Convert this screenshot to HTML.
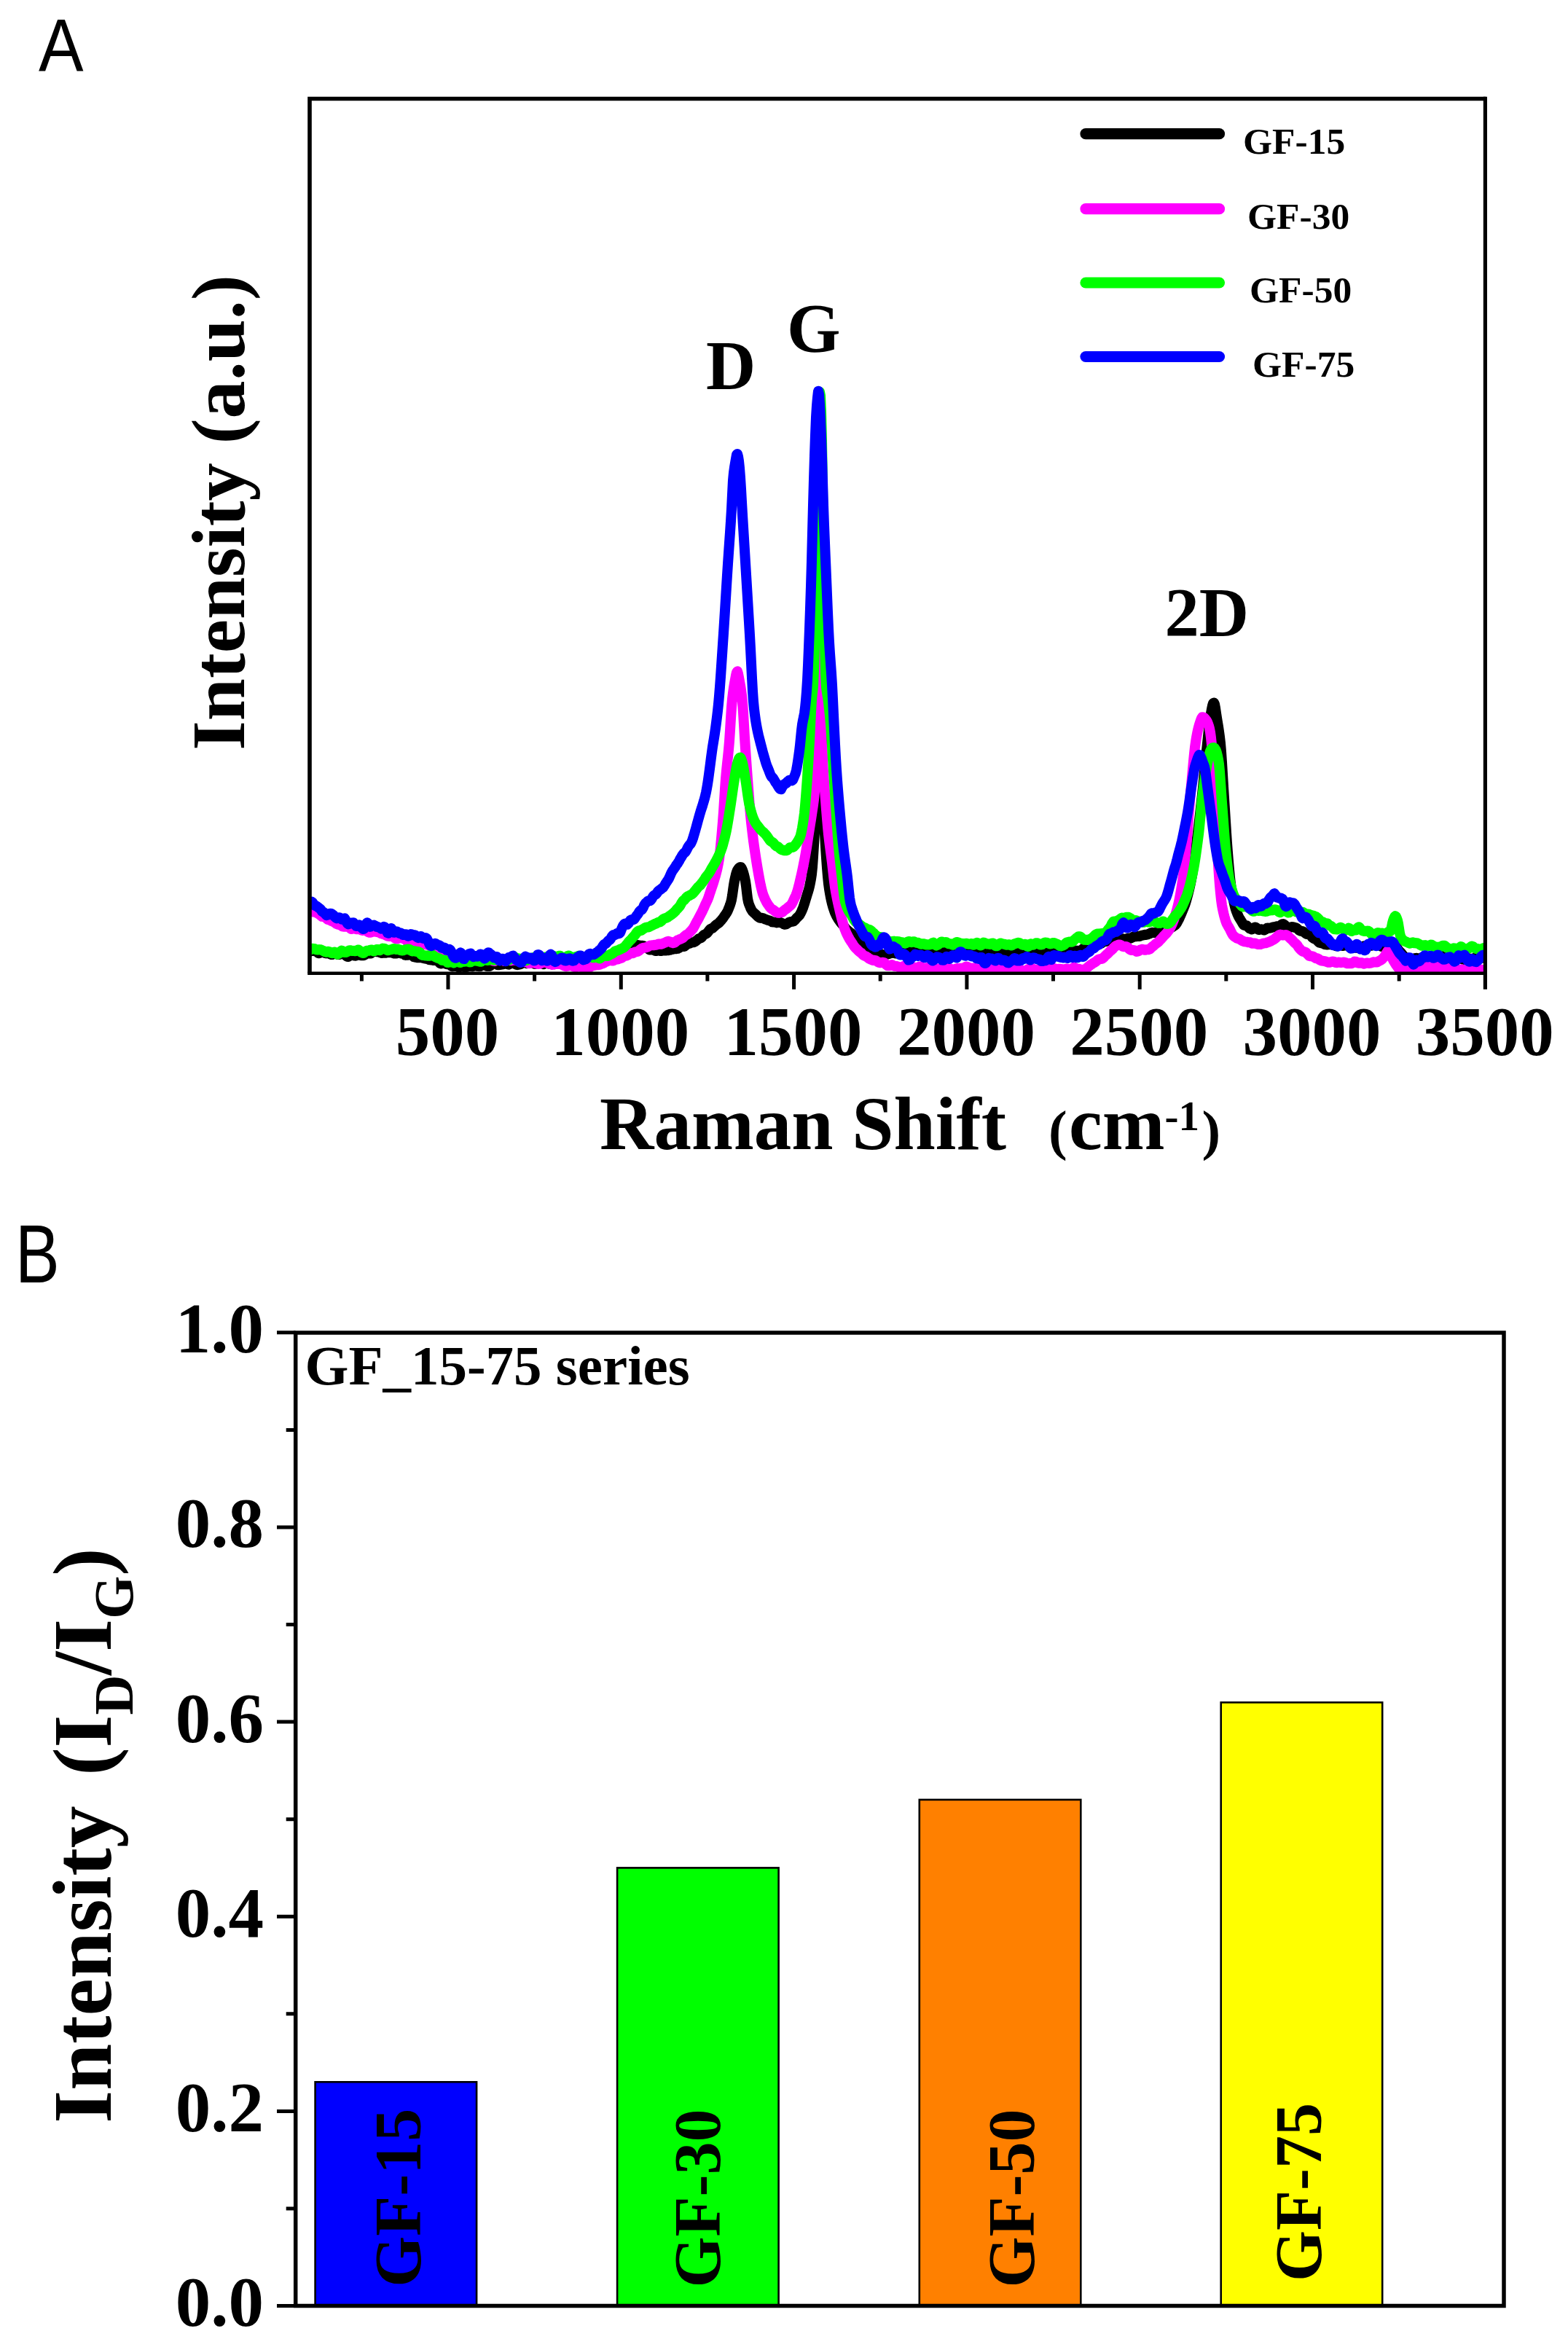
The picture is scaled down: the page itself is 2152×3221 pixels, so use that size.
<!DOCTYPE html>
<html lang="en"><head><meta charset="utf-8"><title>Raman spectra and ID/IG ratio of GF series</title>
<style>html,body{margin:0;padding:0;background:#fff}svg{display:block}text{fill:#000}.s{font-family:"Liberation Serif","DejaVu Serif",serif;font-weight:700}.n{font-family:"Liberation Sans","DejaVu Sans",sans-serif;font-weight:400}</style></head><body>
<svg width="2152" height="3221" viewBox="0 0 2152 3221">
<rect width="2152" height="3221" fill="#fff"/>
<g id="panelA">
<text class="n" transform="translate(53 98.4) scale(0.905 1)" x="0" y="0" font-size="102">A</text>
<clipPath id="cA"><rect x="425" y="136" width="1614" height="1200"/></clipPath>
<g clip-path="url(#cA)" fill="none" stroke-width="14" stroke-linejoin="round" stroke-linecap="round">
<path stroke="#000" d="M425.0 1306.0 L426.0 1305.6 L427.0 1305.2 L428.0 1304.6 L429.0 1304.5 L430.0 1304.8 L431.0 1305.1 L432.0 1305.2 L433.0 1305.5 L434.0 1305.8 L435.0 1306.4 L436.0 1307.4 L437.0 1308.0 L438.0 1308.3 L439.0 1307.8 L440.0 1307.2 L441.0 1306.7 L442.0 1306.3 L443.0 1306.6 L444.0 1306.8 L445.0 1307.3 L446.0 1307.9 L447.0 1308.3 L448.0 1308.4 L449.0 1308.3 L450.0 1308.3 L451.0 1308.4 L452.0 1308.6 L453.0 1309.2 L454.0 1309.7 L455.0 1310.0 L456.0 1310.1 L457.0 1309.3 L458.0 1308.6 L459.0 1307.9 L460.0 1307.6 L461.0 1308.3 L462.0 1308.9 L463.0 1309.8 L464.0 1310.1 L465.0 1309.9 L466.0 1309.9 L467.0 1309.4 L468.0 1309.1 L469.0 1309.2 L470.0 1309.0 L471.0 1309.0 L472.0 1309.3 L473.0 1309.5 L474.0 1310.5 L475.0 1311.7 L476.0 1312.6 L477.0 1313.1 L478.0 1313.0 L479.0 1312.2 L480.0 1311.0 L481.0 1310.0 L482.0 1309.1 L483.0 1309.2 L484.0 1309.6 L485.0 1310.7 L486.0 1311.5 L487.0 1311.6 L488.0 1311.7 L489.0 1310.8 L490.0 1310.4 L491.0 1310.4 L492.0 1310.2 L493.0 1310.7 L494.0 1310.9 L495.0 1310.9 L496.0 1311.2 L497.0 1311.2 L498.0 1311.3 L499.0 1311.3 L500.0 1310.7 L501.0 1310.3 L502.0 1309.5 L503.0 1308.9 L504.0 1308.8 L505.0 1308.3 L506.0 1308.4 L507.0 1308.5 L508.0 1308.3 L509.0 1308.4 L510.0 1307.8 L511.0 1306.8 L512.0 1305.8 L513.0 1304.9 L514.0 1304.7 L515.0 1305.0 L516.0 1305.5 L517.0 1305.9 L518.0 1306.4 L519.0 1306.5 L520.0 1306.6 L521.0 1307.1 L522.0 1307.3 L523.0 1307.7 L524.0 1308.1 L525.0 1307.8 L526.0 1307.6 L527.0 1307.7 L528.0 1307.7 L529.0 1307.8 L530.0 1307.6 L531.0 1307.3 L532.0 1307.1 L533.0 1307.2 L534.0 1307.2 L535.0 1307.2 L536.0 1307.2 L537.0 1307.3 L538.0 1307.6 L539.0 1307.9 L540.0 1308.2 L541.0 1308.6 L542.0 1308.5 L543.0 1308.4 L544.0 1308.4 L545.0 1307.7 L546.0 1307.5 L547.0 1307.3 L548.0 1307.1 L549.0 1307.8 L550.0 1308.2 L551.0 1308.5 L552.0 1308.6 L553.0 1308.8 L554.0 1309.3 L555.0 1309.9 L556.0 1310.7 L557.0 1310.9 L558.0 1310.8 L559.0 1310.8 L560.0 1310.6 L561.0 1310.5 L562.0 1310.6 L563.0 1310.4 L564.0 1310.4 L565.0 1310.9 L566.0 1311.6 L567.0 1312.4 L568.0 1313.2 L569.0 1313.4 L570.0 1313.7 L571.0 1313.9 L572.0 1314.0 L573.0 1314.3 L574.0 1314.2 L575.0 1314.0 L576.0 1314.2 L577.0 1314.0 L578.0 1314.3 L579.0 1314.5 L580.0 1314.7 L581.0 1315.0 L582.0 1315.2 L583.0 1315.5 L584.0 1315.7 L585.0 1315.6 L586.0 1315.9 L587.0 1316.3 L588.0 1316.4 L589.0 1317.3 L590.0 1317.2 L591.0 1317.2 L592.0 1317.6 L593.0 1317.4 L594.0 1317.8 L595.0 1318.1 L596.0 1317.9 L597.0 1317.8 L598.0 1317.7 L599.0 1317.7 L600.0 1318.0 L601.0 1318.7 L602.0 1319.9 L603.0 1321.1 L604.0 1322.1 L605.0 1322.6 L606.0 1322.3 L607.0 1321.7 L608.0 1321.2 L609.0 1320.8 L610.0 1321.2 L611.0 1321.9 L612.0 1322.7 L613.0 1323.2 L614.0 1323.2 L615.0 1323.3 L616.0 1323.4 L617.0 1323.8 L618.0 1324.6 L619.0 1325.4 L620.0 1326.0 L621.0 1326.5 L622.0 1326.3 L623.0 1325.9 L624.0 1325.5 L625.0 1325.2 L626.0 1325.4 L627.0 1326.0 L628.0 1326.7 L629.0 1327.2 L630.0 1327.5 L631.0 1327.3 L632.0 1326.7 L633.0 1326.4 L634.0 1326.1 L635.0 1326.4 L636.0 1327.1 L637.0 1327.1 L638.0 1327.5 L639.0 1327.3 L640.0 1327.1 L641.0 1327.1 L642.0 1326.6 L643.0 1326.3 L644.0 1325.8 L645.0 1325.7 L646.0 1325.8 L647.0 1326.3 L648.0 1326.5 L649.0 1326.2 L650.0 1325.9 L651.0 1325.1 L652.0 1325.1 L653.0 1325.4 L654.0 1325.5 L655.0 1325.9 L656.0 1326.1 L657.0 1326.1 L658.0 1326.3 L659.0 1326.3 L660.0 1325.6 L661.0 1324.8 L662.0 1323.9 L663.0 1323.5 L664.0 1323.6 L665.0 1324.2 L666.0 1325.1 L667.0 1325.6 L668.0 1325.8 L669.0 1326.1 L670.0 1326.1 L671.0 1326.0 L672.0 1326.1 L673.0 1325.2 L674.0 1324.2 L675.0 1323.4 L676.0 1322.0 L677.0 1321.7 L678.0 1321.6 L679.0 1321.3 L680.0 1322.0 L681.0 1322.6 L682.0 1323.2 L683.0 1324.2 L684.0 1324.2 L685.0 1324.2 L686.0 1324.1 L687.0 1323.8 L688.0 1323.7 L689.0 1323.6 L690.0 1323.4 L691.0 1322.7 L692.0 1322.6 L693.0 1322.2 L694.0 1322.1 L695.0 1322.7 L696.0 1322.9 L697.0 1323.5 L698.0 1323.7 L699.0 1323.3 L700.0 1322.8 L701.0 1322.1 L702.0 1321.4 L703.0 1321.4 L704.0 1321.5 L705.0 1321.7 L706.0 1322.3 L707.0 1323.0 L708.0 1323.4 L709.0 1324.0 L710.0 1324.2 L711.0 1323.7 L712.0 1323.8 L713.0 1323.5 L714.0 1323.3 L715.0 1323.0 L716.0 1321.8 L717.0 1320.7 L718.0 1320.0 L719.0 1319.5 L720.0 1320.0 L721.0 1321.0 L722.0 1321.6 L723.0 1322.2 L724.0 1322.1 L725.0 1321.6 L726.0 1321.4 L727.0 1321.1 L728.0 1321.2 L729.0 1321.1 L730.0 1321.0 L731.0 1321.4 L732.0 1321.8 L733.0 1322.4 L734.0 1323.0 L735.0 1322.7 L736.0 1322.4 L737.0 1321.6 L738.0 1321.0 L739.0 1320.4 L740.0 1319.9 L741.0 1319.9 L742.0 1320.1 L743.0 1320.8 L744.0 1321.7 L745.0 1322.9 L746.0 1323.2 L747.0 1322.8 L748.0 1322.0 L749.0 1320.9 L750.0 1320.5 L751.0 1321.0 L752.0 1321.9 L753.0 1322.5 L754.0 1322.8 L755.0 1322.8 L756.0 1322.4 L757.0 1322.3 L758.0 1322.1 L759.0 1321.3 L760.0 1320.9 L761.0 1320.8 L762.0 1320.8 L763.0 1320.9 L764.0 1320.9 L765.0 1321.2 L766.0 1321.5 L767.0 1322.3 L768.0 1322.9 L769.0 1322.4 L770.0 1321.5 L771.0 1320.8 L772.0 1319.9 L773.0 1320.3 L774.0 1320.8 L775.0 1321.3 L776.0 1322.2 L777.0 1322.5 L778.0 1322.4 L779.0 1321.9 L780.0 1321.2 L781.0 1320.4 L782.0 1320.3 L783.0 1320.9 L784.0 1321.6 L785.0 1322.2 L786.0 1322.5 L787.0 1322.1 L788.0 1322.0 L789.0 1322.0 L790.0 1322.0 L791.0 1322.4 L792.0 1322.6 L793.0 1323.0 L794.0 1323.1 L795.0 1323.2 L796.0 1323.0 L797.0 1322.7 L798.0 1322.1 L799.0 1322.2 L800.0 1322.1 L801.0 1321.9 L802.0 1321.7 L803.0 1320.9 L804.0 1320.3 L805.0 1320.0 L806.0 1319.9 L807.0 1319.7 L808.0 1319.8 L809.0 1319.8 L810.0 1319.9 L811.0 1320.2 L812.0 1320.4 L813.0 1320.4 L814.0 1320.1 L815.0 1319.6 L816.0 1319.1 L817.0 1318.9 L818.0 1319.6 L819.0 1320.5 L820.0 1321.3 L821.0 1321.6 L822.0 1321.0 L823.0 1320.3 L824.0 1319.7 L825.0 1319.4 L826.0 1319.4 L827.0 1319.4 L828.0 1319.2 L829.0 1319.3 L830.0 1319.1 L831.0 1318.8 L832.0 1318.1 L833.0 1317.1 L834.0 1316.4 L835.0 1316.2 L836.0 1316.3 L837.0 1316.8 L838.0 1317.0 L839.0 1316.8 L840.0 1316.3 L841.0 1315.5 L842.0 1315.0 L843.0 1314.6 L844.0 1314.1 L845.0 1313.7 L846.0 1312.9 L847.0 1311.9 L848.0 1311.2 L849.0 1310.8 L850.0 1310.9 L851.0 1311.2 L852.0 1311.4 L853.0 1311.3 L854.0 1310.6 L855.0 1309.7 L856.0 1308.6 L857.0 1307.2 L858.0 1306.1 L859.0 1304.9 L860.0 1303.8 L861.0 1303.0 L862.0 1302.5 L863.0 1302.0 L864.0 1301.6 L865.0 1301.1 L866.0 1300.1 L867.0 1299.2 L868.0 1298.1 L869.0 1297.1 L870.0 1296.7 L871.0 1296.4 L872.0 1296.6 L873.0 1296.8 L874.0 1297.0 L875.0 1297.1 L876.0 1297.1 L877.0 1297.4 L878.0 1297.5 L879.0 1297.7 L880.0 1297.9 L881.0 1297.7 L882.0 1297.7 L883.0 1298.1 L884.0 1298.5 L885.0 1299.4 L886.0 1300.2 L887.0 1300.5 L888.0 1301.1 L889.0 1301.6 L890.0 1302.2 L891.0 1303.2 L892.0 1303.5 L893.0 1303.6 L894.0 1303.5 L895.0 1303.1 L896.0 1303.1 L897.0 1303.4 L898.0 1304.0 L899.0 1304.8 L900.0 1305.1 L901.0 1305.0 L902.0 1304.5 L903.0 1304.1 L904.0 1304.2 L905.0 1304.5 L906.0 1305.1 L907.0 1305.1 L908.0 1304.9 L909.0 1304.7 L910.0 1304.1 L911.0 1304.3 L912.0 1304.4 L913.0 1304.1 L914.0 1304.5 L915.0 1304.4 L916.0 1304.0 L917.0 1304.3 L918.0 1303.9 L919.0 1303.6 L920.0 1303.8 L921.0 1303.2 L922.0 1303.0 L923.0 1302.9 L924.0 1302.4 L925.0 1302.5 L926.0 1302.3 L927.0 1302.3 L928.0 1302.2 L929.0 1302.0 L930.0 1301.9 L931.0 1301.3 L932.0 1301.0 L933.0 1300.2 L934.0 1299.5 L935.0 1299.2 L936.0 1298.8 L937.0 1298.8 L938.0 1299.1 L939.0 1298.9 L940.0 1298.4 L941.0 1297.5 L942.0 1296.4 L943.0 1295.7 L944.0 1295.2 L945.0 1295.2 L946.0 1295.0 L947.0 1294.5 L948.0 1294.0 L949.0 1293.4 L950.0 1293.3 L951.0 1293.3 L952.0 1293.2 L953.0 1292.8 L954.0 1292.2 L955.0 1291.5 L956.0 1290.7 L957.0 1289.9 L958.0 1289.1 L959.0 1288.3 L960.0 1288.0 L961.0 1287.6 L962.0 1287.2 L963.0 1286.4 L964.0 1285.1 L965.0 1284.0 L966.0 1283.1 L967.0 1282.4 L968.0 1282.1 L969.0 1281.6 L970.0 1280.9 L971.0 1280.0 L972.0 1278.6 L973.0 1277.2 L974.0 1275.9 L975.0 1275.0 L976.0 1274.4 L977.0 1274.0 L978.0 1273.7 L979.0 1272.9 L980.0 1271.9 L981.0 1271.0 L982.0 1269.9 L983.0 1269.1 L984.0 1268.6 L985.0 1267.7 L986.0 1267.0 L987.0 1266.2 L988.0 1265.0 L989.0 1264.0 L990.0 1262.9 L991.0 1261.6 L992.0 1260.4 L993.0 1259.0 L994.0 1257.4 L995.0 1256.1 L996.0 1254.7 L997.0 1253.2 L998.0 1251.5 L999.0 1249.4 L1000.0 1247.0 L1001.0 1244.4 L1002.0 1241.7 L1003.0 1238.7 L1004.0 1234.9 L1005.0 1228.9 L1006.0 1221.8 L1007.0 1214.8 L1008.0 1209.0 L1009.0 1204.3 L1010.0 1200.1 L1011.0 1196.7 L1012.0 1194.4 L1013.0 1192.7 L1014.0 1191.4 L1015.0 1190.4 L1016.0 1190.0 L1017.0 1190.2 L1018.0 1191.8 L1019.0 1194.1 L1020.0 1196.9 L1021.0 1200.4 L1022.0 1204.7 L1023.0 1209.3 L1024.0 1216.0 L1025.0 1224.7 L1026.0 1232.8 L1027.0 1237.9 L1028.0 1241.0 L1029.0 1243.5 L1030.0 1246.0 L1031.0 1248.0 L1032.0 1249.7 L1033.0 1251.1 L1034.0 1252.1 L1035.0 1253.0 L1036.0 1253.9 L1037.0 1254.8 L1038.0 1255.7 L1039.0 1256.7 L1040.0 1257.7 L1041.0 1258.5 L1042.0 1259.3 L1043.0 1259.7 L1044.0 1259.9 L1045.0 1259.8 L1046.0 1259.8 L1047.0 1260.0 L1048.0 1260.4 L1049.0 1261.1 L1050.0 1261.5 L1051.0 1261.8 L1052.0 1262.1 L1053.0 1262.4 L1054.0 1262.9 L1055.0 1263.2 L1056.0 1263.4 L1057.0 1263.7 L1058.0 1264.2 L1059.0 1264.8 L1060.0 1265.4 L1061.0 1265.5 L1062.0 1265.4 L1063.0 1265.6 L1064.0 1265.7 L1065.0 1266.1 L1066.0 1266.4 L1067.0 1266.1 L1068.0 1265.8 L1069.0 1265.7 L1070.0 1265.7 L1071.0 1265.9 L1072.0 1266.4 L1073.0 1266.8 L1074.0 1267.2 L1075.0 1267.8 L1076.0 1268.4 L1077.0 1268.7 L1078.0 1268.6 L1079.0 1268.6 L1080.0 1267.7 L1081.0 1267.0 L1082.0 1266.5 L1083.0 1265.7 L1084.0 1265.4 L1085.0 1265.0 L1086.0 1265.0 L1087.0 1264.9 L1088.0 1264.7 L1089.0 1264.5 L1090.0 1263.6 L1091.0 1262.7 L1092.0 1261.5 L1093.0 1260.2 L1094.0 1259.3 L1095.0 1258.4 L1096.0 1257.4 L1097.0 1256.3 L1098.0 1254.8 L1099.0 1252.9 L1100.0 1250.9 L1101.0 1248.6 L1102.0 1246.1 L1103.0 1243.2 L1104.0 1240.2 L1105.0 1236.9 L1106.0 1233.5 L1107.0 1230.3 L1108.0 1227.0 L1109.0 1223.8 L1110.0 1220.4 L1111.0 1216.5 L1112.0 1211.8 L1113.0 1206.4 L1114.0 1199.9 L1115.0 1190.1 L1116.0 1176.0 L1117.0 1159.7 L1118.0 1142.9 L1119.0 1126.5 L1120.0 1108.4 L1121.0 1087.0 L1122.0 1060.3 L1123.0 1021.3 L1124.0 953.7 L1125.0 700.0 L1126.0 632.2 L1127.0 931.6 L1128.0 1019.8 L1129.0 1066.8 L1130.0 1098.5 L1131.0 1123.8 L1132.0 1144.8 L1133.0 1162.0 L1134.0 1177.2 L1135.0 1190.9 L1136.0 1202.8 L1137.0 1212.7 L1138.0 1220.0 L1139.0 1226.1 L1140.0 1231.5 L1141.0 1236.2 L1142.0 1240.4 L1143.0 1244.0 L1144.0 1247.1 L1145.0 1250.0 L1146.0 1252.7 L1147.0 1255.0 L1148.0 1257.1 L1149.0 1258.9 L1150.0 1260.5 L1151.0 1262.0 L1152.0 1263.5 L1153.0 1264.9 L1154.0 1266.2 L1155.0 1267.5 L1156.0 1268.5 L1157.0 1269.6 L1158.0 1270.8 L1159.0 1272.2 L1160.0 1273.5 L1161.0 1274.7 L1162.0 1275.6 L1163.0 1276.5 L1164.0 1277.4 L1165.0 1278.2 L1166.0 1279.2 L1167.0 1279.9 L1168.0 1280.5 L1169.0 1281.4 L1170.0 1282.5 L1171.0 1283.3 L1172.0 1284.5 L1173.0 1285.8 L1174.0 1286.9 L1175.0 1288.4 L1176.0 1289.5 L1177.0 1290.3 L1178.0 1291.3 L1179.0 1292.3 L1180.0 1293.5 L1181.0 1295.2 L1182.0 1296.6 L1183.0 1297.9 L1184.0 1299.1 L1185.0 1300.1 L1186.0 1301.1 L1187.0 1302.2 L1188.0 1303.2 L1189.0 1304.1 L1190.0 1304.7 L1191.0 1304.8 L1192.0 1304.9 L1193.0 1305.1 L1194.0 1305.4 L1195.0 1306.1 L1196.0 1307.0 L1197.0 1307.7 L1198.0 1308.3 L1199.0 1308.6 L1200.0 1308.5 L1201.0 1308.3 L1202.0 1308.2 L1203.0 1308.4 L1204.0 1308.9 L1205.0 1309.6 L1206.0 1310.4 L1207.0 1310.4 L1208.0 1310.2 L1209.0 1310.0 L1210.0 1309.8 L1211.0 1310.1 L1212.0 1310.3 L1213.0 1310.3 L1214.0 1310.5 L1215.0 1310.2 L1216.0 1310.1 L1217.0 1310.0 L1218.0 1309.5 L1219.0 1309.5 L1220.0 1309.0 L1221.0 1308.6 L1222.0 1308.4 L1223.0 1307.9 L1224.0 1308.1 L1225.0 1307.7 L1226.0 1307.6 L1227.0 1307.9 L1228.0 1307.8 L1229.0 1308.4 L1230.0 1308.4 L1231.0 1307.9 L1232.0 1307.4 L1233.0 1306.7 L1234.0 1306.4 L1235.0 1306.9 L1236.0 1307.0 L1237.0 1307.2 L1238.0 1307.3 L1239.0 1306.7 L1240.0 1306.4 L1241.0 1305.9 L1242.0 1305.7 L1243.0 1305.8 L1244.0 1305.7 L1245.0 1305.5 L1246.0 1304.9 L1247.0 1304.1 L1248.0 1303.9 L1249.0 1304.5 L1250.0 1304.9 L1251.0 1305.6 L1252.0 1306.1 L1253.0 1305.9 L1254.0 1306.5 L1255.0 1306.8 L1256.0 1306.9 L1257.0 1306.9 L1258.0 1306.7 L1259.0 1306.5 L1260.0 1306.2 L1261.0 1306.3 L1262.0 1306.4 L1263.0 1306.9 L1264.0 1307.7 L1265.0 1308.0 L1266.0 1308.0 L1267.0 1307.5 L1268.0 1306.7 L1269.0 1306.1 L1270.0 1305.7 L1271.0 1306.1 L1272.0 1306.2 L1273.0 1306.2 L1274.0 1306.3 L1275.0 1305.8 L1276.0 1305.8 L1277.0 1306.0 L1278.0 1306.2 L1279.0 1306.2 L1280.0 1305.8 L1281.0 1305.5 L1282.0 1305.5 L1283.0 1306.1 L1284.0 1306.9 L1285.0 1307.8 L1286.0 1308.1 L1287.0 1307.8 L1288.0 1307.4 L1289.0 1306.4 L1290.0 1305.9 L1291.0 1306.0 L1292.0 1306.2 L1293.0 1307.0 L1294.0 1307.4 L1295.0 1307.5 L1296.0 1307.2 L1297.0 1306.4 L1298.0 1306.2 L1299.0 1306.1 L1300.0 1306.8 L1301.0 1307.9 L1302.0 1308.6 L1303.0 1309.1 L1304.0 1308.9 L1305.0 1308.2 L1306.0 1307.6 L1307.0 1306.7 L1308.0 1306.3 L1309.0 1306.6 L1310.0 1307.0 L1311.0 1307.6 L1312.0 1307.8 L1313.0 1307.6 L1314.0 1307.2 L1315.0 1306.9 L1316.0 1306.9 L1317.0 1306.8 L1318.0 1307.1 L1319.0 1307.1 L1320.0 1306.9 L1321.0 1307.2 L1322.0 1307.0 L1323.0 1307.1 L1324.0 1307.6 L1325.0 1307.8 L1326.0 1308.2 L1327.0 1308.6 L1328.0 1308.7 L1329.0 1308.8 L1330.0 1308.5 L1331.0 1308.0 L1332.0 1307.6 L1333.0 1307.4 L1334.0 1306.8 L1335.0 1306.5 L1336.0 1306.1 L1337.0 1306.0 L1338.0 1306.9 L1339.0 1307.8 L1340.0 1308.6 L1341.0 1309.1 L1342.0 1308.8 L1343.0 1308.4 L1344.0 1308.4 L1345.0 1308.2 L1346.0 1308.3 L1347.0 1308.2 L1348.0 1307.7 L1349.0 1307.2 L1350.0 1306.3 L1351.0 1305.6 L1352.0 1305.6 L1353.0 1306.0 L1354.0 1307.2 L1355.0 1308.1 L1356.0 1308.3 L1357.0 1308.1 L1358.0 1307.2 L1359.0 1306.7 L1360.0 1306.5 L1361.0 1306.1 L1362.0 1306.2 L1363.0 1306.1 L1364.0 1306.3 L1365.0 1306.8 L1366.0 1306.7 L1367.0 1306.8 L1368.0 1306.6 L1369.0 1306.7 L1370.0 1307.1 L1371.0 1307.2 L1372.0 1307.2 L1373.0 1307.4 L1374.0 1307.3 L1375.0 1307.6 L1376.0 1307.9 L1377.0 1307.6 L1378.0 1307.9 L1379.0 1308.3 L1380.0 1308.4 L1381.0 1309.1 L1382.0 1309.3 L1383.0 1308.9 L1384.0 1308.8 L1385.0 1308.3 L1386.0 1307.5 L1387.0 1307.5 L1388.0 1307.1 L1389.0 1306.8 L1390.0 1306.5 L1391.0 1305.8 L1392.0 1305.5 L1393.0 1305.6 L1394.0 1306.1 L1395.0 1306.7 L1396.0 1307.2 L1397.0 1307.6 L1398.0 1307.7 L1399.0 1307.7 L1400.0 1307.7 L1401.0 1307.3 L1402.0 1307.2 L1403.0 1307.1 L1404.0 1306.6 L1405.0 1306.6 L1406.0 1306.2 L1407.0 1306.0 L1408.0 1306.3 L1409.0 1306.0 L1410.0 1306.4 L1411.0 1306.1 L1412.0 1305.8 L1413.0 1306.1 L1414.0 1305.9 L1415.0 1306.5 L1416.0 1306.9 L1417.0 1306.8 L1418.0 1307.0 L1419.0 1307.0 L1420.0 1307.1 L1421.0 1307.4 L1422.0 1307.6 L1423.0 1307.9 L1424.0 1307.4 L1425.0 1306.9 L1426.0 1306.0 L1427.0 1304.6 L1428.0 1304.6 L1429.0 1304.6 L1430.0 1305.4 L1431.0 1307.0 L1432.0 1307.6 L1433.0 1308.1 L1434.0 1307.6 L1435.0 1307.0 L1436.0 1306.5 L1437.0 1306.5 L1438.0 1306.8 L1439.0 1307.1 L1440.0 1307.5 L1441.0 1307.3 L1442.0 1306.9 L1443.0 1306.5 L1444.0 1306.2 L1445.0 1306.0 L1446.0 1306.2 L1447.0 1306.3 L1448.0 1306.6 L1449.0 1306.8 L1450.0 1307.0 L1451.0 1307.1 L1452.0 1307.1 L1453.0 1307.1 L1454.0 1307.3 L1455.0 1307.7 L1456.0 1308.1 L1457.0 1308.1 L1458.0 1308.0 L1459.0 1307.9 L1460.0 1307.5 L1461.0 1307.6 L1462.0 1307.1 L1463.0 1306.2 L1464.0 1305.4 L1465.0 1304.8 L1466.0 1304.8 L1467.0 1304.8 L1468.0 1305.2 L1469.0 1304.9 L1470.0 1304.9 L1471.0 1305.0 L1472.0 1304.8 L1473.0 1304.8 L1474.0 1304.7 L1475.0 1304.5 L1476.0 1304.5 L1477.0 1304.7 L1478.0 1304.6 L1479.0 1304.9 L1480.0 1305.0 L1481.0 1304.9 L1482.0 1304.6 L1483.0 1304.4 L1484.0 1303.8 L1485.0 1303.0 L1486.0 1302.3 L1487.0 1301.4 L1488.0 1301.2 L1489.0 1301.1 L1490.0 1301.2 L1491.0 1301.2 L1492.0 1300.9 L1493.0 1300.8 L1494.0 1300.4 L1495.0 1299.7 L1496.0 1299.1 L1497.0 1298.5 L1498.0 1298.2 L1499.0 1298.5 L1500.0 1298.6 L1501.0 1298.4 L1502.0 1298.0 L1503.0 1297.2 L1504.0 1296.6 L1505.0 1295.8 L1506.0 1295.1 L1507.0 1294.8 L1508.0 1294.7 L1509.0 1294.9 L1510.0 1295.1 L1511.0 1294.8 L1512.0 1294.4 L1513.0 1293.5 L1514.0 1292.6 L1515.0 1292.1 L1516.0 1291.6 L1517.0 1291.5 L1518.0 1292.0 L1519.0 1291.6 L1520.0 1291.6 L1521.0 1291.3 L1522.0 1290.7 L1523.0 1290.9 L1524.0 1290.9 L1525.0 1290.9 L1526.0 1291.1 L1527.0 1290.9 L1528.0 1290.7 L1529.0 1290.5 L1530.0 1289.9 L1531.0 1289.5 L1532.0 1289.1 L1533.0 1288.7 L1534.0 1289.1 L1535.0 1289.3 L1536.0 1289.7 L1537.0 1290.0 L1538.0 1289.5 L1539.0 1289.0 L1540.0 1288.5 L1541.0 1288.3 L1542.0 1288.9 L1543.0 1289.2 L1544.0 1289.3 L1545.0 1289.3 L1546.0 1288.4 L1547.0 1287.9 L1548.0 1287.6 L1549.0 1287.6 L1550.0 1287.9 L1551.0 1287.9 L1552.0 1287.6 L1553.0 1287.1 L1554.0 1286.4 L1555.0 1285.7 L1556.0 1285.7 L1557.0 1285.3 L1558.0 1285.2 L1559.0 1285.2 L1560.0 1284.8 L1561.0 1285.0 L1562.0 1285.1 L1563.0 1285.1 L1564.0 1284.9 L1565.0 1284.5 L1566.0 1284.1 L1567.0 1283.8 L1568.0 1283.6 L1569.0 1283.4 L1570.0 1283.0 L1571.0 1282.8 L1572.0 1282.9 L1573.0 1282.9 L1574.0 1282.7 L1575.0 1282.5 L1576.0 1282.1 L1577.0 1281.5 L1578.0 1281.3 L1579.0 1280.5 L1580.0 1280.1 L1581.0 1279.9 L1582.0 1279.7 L1583.0 1280.1 L1584.0 1280.1 L1585.0 1279.9 L1586.0 1279.7 L1587.0 1280.0 L1588.0 1280.6 L1589.0 1280.7 L1590.0 1280.7 L1591.0 1279.8 L1592.0 1278.6 L1593.0 1278.1 L1594.0 1277.6 L1595.0 1277.6 L1596.0 1277.5 L1597.0 1277.4 L1598.0 1277.1 L1599.0 1276.6 L1600.0 1275.9 L1601.0 1275.0 L1602.0 1274.4 L1603.0 1274.2 L1604.0 1274.2 L1605.0 1274.0 L1606.0 1273.8 L1607.0 1273.3 L1608.0 1272.8 L1609.0 1272.2 L1610.0 1271.5 L1611.0 1270.8 L1612.0 1270.2 L1613.0 1269.5 L1614.0 1268.4 L1615.0 1267.0 L1616.0 1265.2 L1617.0 1263.3 L1618.0 1261.4 L1619.0 1259.3 L1620.0 1257.0 L1621.0 1254.7 L1622.0 1252.3 L1623.0 1249.9 L1624.0 1247.5 L1625.0 1245.0 L1626.0 1242.5 L1627.0 1239.5 L1628.0 1236.2 L1629.0 1232.7 L1630.0 1228.9 L1631.0 1225.0 L1632.0 1221.0 L1633.0 1216.6 L1634.0 1212.0 L1635.0 1207.1 L1636.0 1201.6 L1637.0 1195.3 L1638.0 1188.4 L1639.0 1181.1 L1640.0 1173.5 L1641.0 1165.7 L1642.0 1157.8 L1643.0 1150.0 L1644.0 1142.1 L1645.0 1134.0 L1646.0 1125.6 L1647.0 1117.0 L1648.0 1108.2 L1649.0 1099.2 L1650.0 1090.0 L1651.0 1080.4 L1652.0 1070.4 L1653.0 1060.1 L1654.0 1049.8 L1655.0 1039.7 L1656.0 1030.0 L1657.0 1020.2 L1658.0 1010.2 L1659.0 1000.4 L1660.0 991.8 L1661.0 984.9 L1662.0 978.9 L1663.0 973.2 L1664.0 968.4 L1665.0 965.2 L1666.0 964.4 L1667.0 966.4 L1668.0 971.6 L1669.0 978.4 L1670.0 985.1 L1671.0 991.1 L1672.0 997.2 L1673.0 1003.8 L1674.0 1011.2 L1675.0 1019.9 L1676.0 1031.4 L1677.0 1046.0 L1678.0 1062.4 L1679.0 1079.1 L1680.0 1095.0 L1681.0 1110.5 L1682.0 1126.5 L1683.0 1142.2 L1684.0 1157.0 L1685.0 1170.1 L1686.0 1182.0 L1687.0 1193.4 L1688.0 1203.8 L1689.0 1212.8 L1690.0 1220.0 L1691.0 1225.7 L1692.0 1231.0 L1693.0 1235.9 L1694.0 1240.4 L1695.0 1244.5 L1696.0 1248.0 L1697.0 1251.0 L1698.0 1253.6 L1699.0 1255.9 L1700.0 1258.1 L1701.0 1259.9 L1702.0 1261.5 L1703.0 1263.1 L1704.0 1264.7 L1705.0 1266.5 L1706.0 1268.2 L1707.0 1269.4 L1708.0 1269.9 L1709.0 1269.8 L1710.0 1269.9 L1711.0 1270.3 L1712.0 1271.2 L1713.0 1272.2 L1714.0 1273.2 L1715.0 1274.3 L1716.0 1274.6 L1717.0 1275.0 L1718.0 1275.4 L1719.0 1274.9 L1720.0 1274.5 L1721.0 1273.8 L1722.0 1272.6 L1723.0 1272.6 L1724.0 1273.0 L1725.0 1274.1 L1726.0 1275.3 L1727.0 1275.8 L1728.0 1276.1 L1729.0 1275.7 L1730.0 1275.5 L1731.0 1275.3 L1732.0 1275.4 L1733.0 1275.7 L1734.0 1276.2 L1735.0 1276.5 L1736.0 1276.1 L1737.0 1275.5 L1738.0 1274.5 L1739.0 1273.7 L1740.0 1273.5 L1741.0 1273.6 L1742.0 1273.7 L1743.0 1273.7 L1744.0 1273.5 L1745.0 1273.1 L1746.0 1272.8 L1747.0 1272.5 L1748.0 1272.2 L1749.0 1272.1 L1750.0 1272.0 L1751.0 1271.7 L1752.0 1271.4 L1753.0 1271.2 L1754.0 1271.0 L1755.0 1271.0 L1756.0 1270.8 L1757.0 1270.4 L1758.0 1269.6 L1759.0 1268.7 L1760.0 1268.2 L1761.0 1268.1 L1762.0 1268.6 L1763.0 1269.2 L1764.0 1270.2 L1765.0 1271.1 L1766.0 1272.1 L1767.0 1272.9 L1768.0 1273.2 L1769.0 1273.4 L1770.0 1272.9 L1771.0 1272.5 L1772.0 1272.3 L1773.0 1271.9 L1774.0 1272.2 L1775.0 1272.4 L1776.0 1272.5 L1777.0 1272.9 L1778.0 1273.1 L1779.0 1273.5 L1780.0 1274.1 L1781.0 1274.9 L1782.0 1275.9 L1783.0 1276.7 L1784.0 1277.3 L1785.0 1277.7 L1786.0 1277.8 L1787.0 1277.9 L1788.0 1278.2 L1789.0 1278.7 L1790.0 1279.4 L1791.0 1280.3 L1792.0 1281.1 L1793.0 1281.8 L1794.0 1282.1 L1795.0 1282.0 L1796.0 1282.1 L1797.0 1282.1 L1798.0 1282.8 L1799.0 1284.0 L1800.0 1285.0 L1801.0 1286.5 L1802.0 1287.3 L1803.0 1287.9 L1804.0 1288.5 L1805.0 1288.7 L1806.0 1289.3 L1807.0 1290.1 L1808.0 1290.9 L1809.0 1292.1 L1810.0 1293.0 L1811.0 1293.7 L1812.0 1294.1 L1813.0 1294.2 L1814.0 1294.3 L1815.0 1294.6 L1816.0 1295.0 L1817.0 1295.5 L1818.0 1296.1 L1819.0 1296.2 L1820.0 1296.4 L1821.0 1296.5 L1822.0 1296.5 L1823.0 1296.4 L1824.0 1296.2 L1825.0 1296.1 L1826.0 1296.1 L1827.0 1296.4 L1828.0 1296.5 L1829.0 1296.7 L1830.0 1297.1 L1831.0 1297.3 L1832.0 1297.6 L1833.0 1298.1 L1834.0 1298.3 L1835.0 1298.4 L1836.0 1298.4 L1837.0 1298.1 L1838.0 1297.8 L1839.0 1297.5 L1840.0 1297.3 L1841.0 1297.2 L1842.0 1297.5 L1843.0 1297.9 L1844.0 1297.9 L1845.0 1297.6 L1846.0 1296.6 L1847.0 1295.6 L1848.0 1295.4 L1849.0 1296.1 L1850.0 1297.4 L1851.0 1298.9 L1852.0 1299.8 L1853.0 1299.9 L1854.0 1299.6 L1855.0 1299.2 L1856.0 1298.7 L1857.0 1298.5 L1858.0 1298.9 L1859.0 1299.1 L1860.0 1299.7 L1861.0 1300.7 L1862.0 1300.8 L1863.0 1300.8 L1864.0 1300.6 L1865.0 1299.8 L1866.0 1299.5 L1867.0 1299.6 L1868.0 1299.4 L1869.0 1299.4 L1870.0 1299.2 L1871.0 1298.6 L1872.0 1298.4 L1873.0 1298.2 L1874.0 1298.2 L1875.0 1298.1 L1876.0 1298.0 L1877.0 1297.7 L1878.0 1297.5 L1879.0 1297.5 L1880.0 1297.3 L1881.0 1297.8 L1882.0 1297.7 L1883.0 1297.4 L1884.0 1297.1 L1885.0 1296.2 L1886.0 1295.7 L1887.0 1295.6 L1888.0 1296.0 L1889.0 1296.4 L1890.0 1296.8 L1891.0 1297.0 L1892.0 1296.8 L1893.0 1297.4 L1894.0 1297.8 L1895.0 1298.1 L1896.0 1299.0 L1897.0 1298.9 L1898.0 1299.0 L1899.0 1299.1 L1900.0 1298.6 L1901.0 1298.1 L1902.0 1297.5 L1903.0 1296.9 L1904.0 1296.0 L1905.0 1296.1 L1906.0 1296.1 L1907.0 1296.5 L1908.0 1297.1 L1909.0 1297.5 L1910.0 1297.6 L1911.0 1297.4 L1912.0 1297.1 L1913.0 1296.6 L1914.0 1296.9 L1915.0 1297.8 L1916.0 1299.0 L1917.0 1300.4 L1918.0 1301.9 L1919.0 1303.3 L1920.0 1304.7 L1921.0 1305.8 L1922.0 1306.7 L1923.0 1307.7 L1924.0 1308.9 L1925.0 1310.2 L1926.0 1311.9 L1927.0 1313.1 L1928.0 1313.7 L1929.0 1314.3 L1930.0 1314.2 L1931.0 1314.3 L1932.0 1315.0 L1933.0 1315.4 L1934.0 1315.7 L1935.0 1315.8 L1936.0 1315.9 L1937.0 1315.9 L1938.0 1316.1 L1939.0 1316.1 L1940.0 1315.9 L1941.0 1315.4 L1942.0 1315.0 L1943.0 1315.0 L1944.0 1314.8 L1945.0 1315.2 L1946.0 1315.5 L1947.0 1315.6 L1948.0 1315.5 L1949.0 1315.2 L1950.0 1315.0 L1951.0 1314.3 L1952.0 1313.9 L1953.0 1313.6 L1954.0 1313.4 L1955.0 1313.6 L1956.0 1313.9 L1957.0 1313.9 L1958.0 1313.9 L1959.0 1314.1 L1960.0 1313.6 L1961.0 1313.3 L1962.0 1312.8 L1963.0 1312.2 L1964.0 1312.4 L1965.0 1312.5 L1966.0 1312.6 L1967.0 1312.2 L1968.0 1311.7 L1969.0 1311.3 L1970.0 1311.2 L1971.0 1311.7 L1972.0 1312.2 L1973.0 1312.6 L1974.0 1312.7 L1975.0 1312.3 L1976.0 1311.9 L1977.0 1311.4 L1978.0 1311.6 L1979.0 1312.4 L1980.0 1313.1 L1981.0 1314.1 L1982.0 1314.9 L1983.0 1315.0 L1984.0 1315.4 L1985.0 1315.5 L1986.0 1315.5 L1987.0 1315.4 L1988.0 1315.4 L1989.0 1315.5 L1990.0 1315.9 L1991.0 1316.2 L1992.0 1316.5 L1993.0 1316.7 L1994.0 1316.5 L1995.0 1316.8 L1996.0 1317.0 L1997.0 1317.0 L1998.0 1317.2 L1999.0 1317.0 L2000.0 1316.6 L2001.0 1316.1 L2002.0 1315.4 L2003.0 1314.6 L2004.0 1314.2 L2005.0 1314.4 L2006.0 1314.9 L2007.0 1315.9 L2008.0 1316.7 L2009.0 1316.9 L2010.0 1316.8 L2011.0 1316.0 L2012.0 1315.2 L2013.0 1314.9 L2014.0 1314.7 L2015.0 1315.0 L2016.0 1315.4 L2017.0 1315.5 L2018.0 1315.7 L2019.0 1315.8 L2020.0 1315.8 L2021.0 1315.8 L2022.0 1315.4 L2023.0 1315.0 L2024.0 1314.8 L2025.0 1314.3 L2026.0 1314.5 L2027.0 1314.4 L2028.0 1314.2 L2029.0 1314.5 L2030.0 1314.4 L2031.0 1314.7 L2032.0 1314.7 L2033.0 1314.7 L2034.0 1314.7 L2035.0 1314.4 L2036.0 1314.5 L2037.0 1314.3 L2038.0 1313.7 L2039.0 1313.5"/>
<path stroke="#f0f" d="M425.0 1248.6 L426.0 1249.3 L427.0 1250.3 L428.0 1250.7 L429.0 1251.1 L430.0 1251.5 L431.0 1251.4 L432.0 1251.7 L433.0 1252.1 L434.0 1252.4 L435.0 1253.0 L436.0 1253.6 L437.0 1254.1 L438.0 1254.8 L439.0 1255.5 L440.0 1256.3 L441.0 1257.3 L442.0 1257.9 L443.0 1258.0 L444.0 1258.2 L445.0 1258.1 L446.0 1258.5 L447.0 1259.3 L448.0 1260.2 L449.0 1261.2 L450.0 1261.9 L451.0 1262.3 L452.0 1262.6 L453.0 1263.0 L454.0 1263.4 L455.0 1264.0 L456.0 1264.3 L457.0 1264.8 L458.0 1265.3 L459.0 1265.9 L460.0 1266.6 L461.0 1267.4 L462.0 1268.1 L463.0 1268.4 L464.0 1268.7 L465.0 1268.7 L466.0 1268.8 L467.0 1269.3 L468.0 1270.0 L469.0 1270.8 L470.0 1271.4 L471.0 1271.6 L472.0 1271.7 L473.0 1271.7 L474.0 1271.7 L475.0 1271.8 L476.0 1271.6 L477.0 1271.5 L478.0 1271.7 L479.0 1272.4 L480.0 1273.4 L481.0 1274.3 L482.0 1274.9 L483.0 1274.9 L484.0 1274.7 L485.0 1274.5 L486.0 1274.4 L487.0 1274.4 L488.0 1274.6 L489.0 1275.2 L490.0 1275.1 L491.0 1275.2 L492.0 1274.7 L493.0 1274.4 L494.0 1275.1 L495.0 1275.6 L496.0 1276.6 L497.0 1276.9 L498.0 1276.5 L499.0 1276.2 L500.0 1275.9 L501.0 1276.2 L502.0 1276.8 L503.0 1277.5 L504.0 1278.2 L505.0 1279.0 L506.0 1279.4 L507.0 1279.8 L508.0 1279.8 L509.0 1279.5 L510.0 1279.2 L511.0 1278.5 L512.0 1278.2 L513.0 1278.1 L514.0 1278.3 L515.0 1278.8 L516.0 1278.8 L517.0 1279.0 L518.0 1279.1 L519.0 1279.2 L520.0 1279.7 L521.0 1280.1 L522.0 1280.6 L523.0 1281.2 L524.0 1281.4 L525.0 1281.7 L526.0 1281.8 L527.0 1281.9 L528.0 1282.4 L529.0 1283.2 L530.0 1283.8 L531.0 1284.2 L532.0 1284.7 L533.0 1284.5 L534.0 1284.9 L535.0 1285.1 L536.0 1284.9 L537.0 1285.0 L538.0 1284.8 L539.0 1285.0 L540.0 1285.7 L541.0 1286.5 L542.0 1287.5 L543.0 1288.0 L544.0 1288.5 L545.0 1288.6 L546.0 1288.2 L547.0 1287.8 L548.0 1287.2 L549.0 1286.6 L550.0 1286.6 L551.0 1286.8 L552.0 1287.0 L553.0 1287.6 L554.0 1288.3 L555.0 1288.7 L556.0 1289.3 L557.0 1290.0 L558.0 1290.9 L559.0 1292.2 L560.0 1293.2 L561.0 1293.9 L562.0 1294.2 L563.0 1294.4 L564.0 1294.7 L565.0 1294.7 L566.0 1294.3 L567.0 1293.7 L568.0 1292.9 L569.0 1292.5 L570.0 1292.6 L571.0 1292.6 L572.0 1292.9 L573.0 1293.1 L574.0 1293.3 L575.0 1294.0 L576.0 1294.4 L577.0 1294.6 L578.0 1295.4 L579.0 1295.8 L580.0 1296.2 L581.0 1296.6 L582.0 1296.1 L583.0 1295.7 L584.0 1295.8 L585.0 1295.9 L586.0 1296.5 L587.0 1297.0 L588.0 1297.2 L589.0 1297.4 L590.0 1297.6 L591.0 1297.6 L592.0 1297.9 L593.0 1298.0 L594.0 1298.3 L595.0 1299.0 L596.0 1299.6 L597.0 1300.4 L598.0 1300.9 L599.0 1300.9 L600.0 1301.0 L601.0 1300.9 L602.0 1301.2 L603.0 1302.0 L604.0 1302.6 L605.0 1303.3 L606.0 1303.7 L607.0 1304.0 L608.0 1304.5 L609.0 1304.9 L610.0 1305.5 L611.0 1305.9 L612.0 1306.3 L613.0 1306.8 L614.0 1307.6 L615.0 1308.6 L616.0 1309.4 L617.0 1309.9 L618.0 1310.1 L619.0 1310.0 L620.0 1310.3 L621.0 1310.6 L622.0 1311.1 L623.0 1311.4 L624.0 1311.3 L625.0 1311.0 L626.0 1310.5 L627.0 1310.3 L628.0 1310.5 L629.0 1311.3 L630.0 1312.0 L631.0 1312.9 L632.0 1313.3 L633.0 1313.2 L634.0 1313.2 L635.0 1312.6 L636.0 1312.4 L637.0 1312.5 L638.0 1312.6 L639.0 1313.0 L640.0 1313.3 L641.0 1313.4 L642.0 1313.7 L643.0 1313.5 L644.0 1313.4 L645.0 1313.7 L646.0 1313.9 L647.0 1314.5 L648.0 1315.0 L649.0 1314.9 L650.0 1315.1 L651.0 1315.2 L652.0 1315.4 L653.0 1315.7 L654.0 1315.6 L655.0 1315.5 L656.0 1315.4 L657.0 1315.6 L658.0 1315.6 L659.0 1315.7 L660.0 1315.4 L661.0 1314.9 L662.0 1314.8 L663.0 1314.5 L664.0 1314.7 L665.0 1315.1 L666.0 1315.4 L667.0 1315.7 L668.0 1315.4 L669.0 1315.2 L670.0 1314.9 L671.0 1314.8 L672.0 1315.3 L673.0 1315.9 L674.0 1316.7 L675.0 1317.5 L676.0 1318.2 L677.0 1318.7 L678.0 1318.9 L679.0 1319.0 L680.0 1318.6 L681.0 1318.2 L682.0 1318.0 L683.0 1317.5 L684.0 1317.6 L685.0 1317.7 L686.0 1317.4 L687.0 1317.5 L688.0 1317.3 L689.0 1317.6 L690.0 1318.1 L691.0 1318.5 L692.0 1318.9 L693.0 1318.8 L694.0 1318.5 L695.0 1318.1 L696.0 1317.9 L697.0 1317.5 L698.0 1317.5 L699.0 1317.8 L700.0 1317.8 L701.0 1318.2 L702.0 1318.2 L703.0 1318.0 L704.0 1317.6 L705.0 1317.5 L706.0 1317.2 L707.0 1317.7 L708.0 1318.2 L709.0 1318.2 L710.0 1318.3 L711.0 1318.0 L712.0 1317.6 L713.0 1317.4 L714.0 1317.6 L715.0 1317.5 L716.0 1317.8 L717.0 1318.1 L718.0 1318.5 L719.0 1319.3 L720.0 1319.8 L721.0 1320.2 L722.0 1320.2 L723.0 1320.5 L724.0 1321.0 L725.0 1321.6 L726.0 1322.2 L727.0 1322.1 L728.0 1322.1 L729.0 1321.6 L730.0 1321.1 L731.0 1321.0 L732.0 1320.6 L733.0 1320.9 L734.0 1321.6 L735.0 1321.9 L736.0 1322.5 L737.0 1322.7 L738.0 1322.9 L739.0 1323.0 L740.0 1322.9 L741.0 1322.7 L742.0 1322.0 L743.0 1321.4 L744.0 1321.1 L745.0 1321.1 L746.0 1320.9 L747.0 1320.6 L748.0 1320.5 L749.0 1320.3 L750.0 1320.9 L751.0 1321.6 L752.0 1322.1 L753.0 1322.5 L754.0 1322.6 L755.0 1323.0 L756.0 1323.1 L757.0 1323.5 L758.0 1323.9 L759.0 1323.7 L760.0 1323.7 L761.0 1323.3 L762.0 1323.0 L763.0 1322.8 L764.0 1322.8 L765.0 1323.0 L766.0 1322.9 L767.0 1323.0 L768.0 1322.7 L769.0 1322.8 L770.0 1323.1 L771.0 1323.5 L772.0 1324.2 L773.0 1324.6 L774.0 1325.3 L775.0 1325.7 L776.0 1326.1 L777.0 1326.4 L778.0 1326.1 L779.0 1325.8 L780.0 1325.6 L781.0 1325.2 L782.0 1325.3 L783.0 1325.4 L784.0 1325.2 L785.0 1325.5 L786.0 1325.6 L787.0 1326.2 L788.0 1326.9 L789.0 1327.3 L790.0 1327.6 L791.0 1327.2 L792.0 1326.6 L793.0 1326.1 L794.0 1326.0 L795.0 1326.0 L796.0 1326.4 L797.0 1327.1 L798.0 1327.1 L799.0 1327.7 L800.0 1327.7 L801.0 1327.2 L802.0 1327.4 L803.0 1327.0 L804.0 1327.0 L805.0 1327.4 L806.0 1327.8 L807.0 1328.2 L808.0 1328.3 L809.0 1328.0 L810.0 1327.0 L811.0 1326.1 L812.0 1325.5 L813.0 1324.7 L814.0 1324.8 L815.0 1325.0 L816.0 1324.6 L817.0 1324.7 L818.0 1324.5 L819.0 1324.1 L820.0 1324.3 L821.0 1324.3 L822.0 1324.0 L823.0 1323.9 L824.0 1323.6 L825.0 1322.9 L826.0 1322.8 L827.0 1322.4 L828.0 1321.9 L829.0 1321.5 L830.0 1320.8 L831.0 1320.2 L832.0 1319.8 L833.0 1319.5 L834.0 1319.0 L835.0 1318.5 L836.0 1318.1 L837.0 1317.7 L838.0 1317.9 L839.0 1318.3 L840.0 1318.5 L841.0 1318.6 L842.0 1318.3 L843.0 1317.7 L844.0 1317.2 L845.0 1317.1 L846.0 1316.7 L847.0 1316.6 L848.0 1316.4 L849.0 1315.7 L850.0 1315.5 L851.0 1315.3 L852.0 1315.1 L853.0 1314.7 L854.0 1314.0 L855.0 1313.0 L856.0 1312.1 L857.0 1311.8 L858.0 1311.5 L859.0 1311.7 L860.0 1311.6 L861.0 1311.0 L862.0 1310.6 L863.0 1309.6 L864.0 1308.7 L865.0 1308.4 L866.0 1308.1 L867.0 1308.3 L868.0 1308.3 L869.0 1308.0 L870.0 1307.6 L871.0 1306.8 L872.0 1306.5 L873.0 1306.2 L874.0 1306.1 L875.0 1305.9 L876.0 1305.3 L877.0 1304.8 L878.0 1303.8 L879.0 1303.0 L880.0 1302.2 L881.0 1301.6 L882.0 1301.2 L883.0 1300.8 L884.0 1300.8 L885.0 1300.5 L886.0 1300.3 L887.0 1300.2 L888.0 1299.8 L889.0 1299.4 L890.0 1298.8 L891.0 1298.2 L892.0 1297.7 L893.0 1297.4 L894.0 1297.4 L895.0 1297.3 L896.0 1297.2 L897.0 1297.2 L898.0 1296.8 L899.0 1297.0 L900.0 1296.9 L901.0 1296.4 L902.0 1296.4 L903.0 1295.6 L904.0 1295.5 L905.0 1295.6 L906.0 1295.6 L907.0 1295.8 L908.0 1295.6 L909.0 1295.2 L910.0 1294.7 L911.0 1294.2 L912.0 1293.9 L913.0 1293.6 L914.0 1293.0 L915.0 1292.5 L916.0 1292.0 L917.0 1291.8 L918.0 1291.9 L919.0 1292.4 L920.0 1292.6 L921.0 1293.1 L922.0 1293.7 L923.0 1293.9 L924.0 1294.2 L925.0 1294.0 L926.0 1293.5 L927.0 1292.7 L928.0 1291.7 L929.0 1291.0 L930.0 1290.3 L931.0 1289.9 L932.0 1289.5 L933.0 1289.0 L934.0 1288.7 L935.0 1288.2 L936.0 1287.8 L937.0 1287.2 L938.0 1286.3 L939.0 1285.4 L940.0 1284.4 L941.0 1283.6 L942.0 1282.9 L943.0 1282.5 L944.0 1281.7 L945.0 1281.0 L946.0 1280.1 L947.0 1278.9 L948.0 1278.0 L949.0 1276.9 L950.0 1275.8 L951.0 1274.6 L952.0 1272.9 L953.0 1271.1 L954.0 1269.2 L955.0 1267.1 L956.0 1265.3 L957.0 1263.6 L958.0 1261.8 L959.0 1260.0 L960.0 1258.1 L961.0 1256.1 L962.0 1254.2 L963.0 1252.4 L964.0 1250.4 L965.0 1248.2 L966.0 1246.0 L967.0 1243.7 L968.0 1241.4 L969.0 1239.4 L970.0 1237.3 L971.0 1235.1 L972.0 1232.6 L973.0 1229.8 L974.0 1226.7 L975.0 1223.7 L976.0 1220.6 L977.0 1217.7 L978.0 1214.7 L979.0 1211.7 L980.0 1208.5 L981.0 1205.1 L982.0 1201.7 L983.0 1198.0 L984.0 1194.0 L985.0 1189.5 L986.0 1184.4 L987.0 1178.5 L988.0 1170.8 L989.0 1161.5 L990.0 1150.9 L991.0 1139.5 L992.0 1127.5 L993.0 1114.2 L994.0 1098.5 L995.0 1082.6 L996.0 1068.7 L997.0 1057.7 L998.0 1048.0 L999.0 1038.8 L1000.0 1029.0 L1001.0 1017.4 L1002.0 1002.4 L1003.0 985.6 L1004.0 970.3 L1005.0 959.3 L1006.0 951.0 L1007.0 943.9 L1008.0 937.9 L1009.0 932.5 L1010.0 926.9 L1011.0 922.7 L1012.0 921.3 L1013.0 924.6 L1014.0 929.7 L1015.0 935.0 L1016.0 940.4 L1017.0 946.8 L1018.0 954.5 L1019.0 963.9 L1020.0 977.6 L1021.0 994.7 L1022.0 1012.1 L1023.0 1027.3 L1024.0 1041.6 L1025.0 1055.4 L1026.0 1068.7 L1027.0 1081.9 L1028.0 1094.9 L1029.0 1107.3 L1030.0 1118.7 L1031.0 1128.5 L1032.0 1137.5 L1033.0 1145.9 L1034.0 1153.8 L1035.0 1161.1 L1036.0 1168.1 L1037.0 1174.7 L1038.0 1181.1 L1039.0 1187.3 L1040.0 1193.4 L1041.0 1199.2 L1042.0 1204.8 L1043.0 1210.0 L1044.0 1214.9 L1045.0 1219.3 L1046.0 1223.3 L1047.0 1226.7 L1048.0 1229.4 L1049.0 1231.8 L1050.0 1234.1 L1051.0 1236.1 L1052.0 1238.1 L1053.0 1239.9 L1054.0 1241.3 L1055.0 1242.7 L1056.0 1244.1 L1057.0 1245.4 L1058.0 1246.6 L1059.0 1247.4 L1060.0 1248.0 L1061.0 1248.6 L1062.0 1249.3 L1063.0 1250.0 L1064.0 1250.8 L1065.0 1251.5 L1066.0 1252.1 L1067.0 1252.6 L1068.0 1252.8 L1069.0 1252.9 L1070.0 1252.7 L1071.0 1252.5 L1072.0 1252.4 L1073.0 1251.9 L1074.0 1251.5 L1075.0 1250.5 L1076.0 1249.6 L1077.0 1248.9 L1078.0 1248.0 L1079.0 1247.5 L1080.0 1246.7 L1081.0 1245.8 L1082.0 1245.0 L1083.0 1244.1 L1084.0 1243.4 L1085.0 1242.5 L1086.0 1241.4 L1087.0 1239.9 L1088.0 1237.9 L1089.0 1235.8 L1090.0 1233.5 L1091.0 1231.5 L1092.0 1229.4 L1093.0 1227.0 L1094.0 1224.1 L1095.0 1220.6 L1096.0 1216.8 L1097.0 1212.9 L1098.0 1208.7 L1099.0 1204.4 L1100.0 1200.0 L1101.0 1195.4 L1102.0 1190.7 L1103.0 1185.7 L1104.0 1180.5 L1105.0 1175.2 L1106.0 1169.6 L1107.0 1163.5 L1108.0 1157.0 L1109.0 1150.3 L1110.0 1143.6 L1111.0 1137.3 L1112.0 1131.0 L1113.0 1124.8 L1114.0 1118.2 L1115.0 1111.5 L1116.0 1104.9 L1117.0 1097.2 L1118.0 1086.9 L1119.0 1069.4 L1120.0 1044.1 L1121.0 1015.0 L1122.0 975.0 L1123.0 900.0 L1124.0 700.0 L1125.0 643.4 L1126.0 900.0 L1127.0 994.0 L1128.0 1022.6 L1129.0 1042.6 L1130.0 1058.6 L1131.0 1072.1 L1132.0 1084.9 L1133.0 1098.1 L1134.0 1111.0 L1135.0 1123.2 L1136.0 1134.6 L1137.0 1144.7 L1138.0 1153.5 L1139.0 1161.3 L1140.0 1168.7 L1141.0 1176.2 L1142.0 1184.2 L1143.0 1192.9 L1144.0 1201.7 L1145.0 1210.2 L1146.0 1217.5 L1147.0 1223.6 L1148.0 1229.1 L1149.0 1234.1 L1150.0 1238.8 L1151.0 1243.2 L1152.0 1247.5 L1153.0 1251.8 L1154.0 1256.0 L1155.0 1260.0 L1156.0 1263.8 L1157.0 1267.4 L1158.0 1270.8 L1159.0 1273.9 L1160.0 1276.5 L1161.0 1279.1 L1162.0 1281.3 L1163.0 1283.3 L1164.0 1285.3 L1165.0 1287.2 L1166.0 1289.0 L1167.0 1290.6 L1168.0 1292.1 L1169.0 1293.5 L1170.0 1295.1 L1171.0 1296.8 L1172.0 1298.2 L1173.0 1299.6 L1174.0 1300.7 L1175.0 1301.7 L1176.0 1302.6 L1177.0 1303.8 L1178.0 1304.9 L1179.0 1305.6 L1180.0 1306.5 L1181.0 1307.2 L1182.0 1307.8 L1183.0 1308.9 L1184.0 1310.1 L1185.0 1310.9 L1186.0 1311.6 L1187.0 1312.1 L1188.0 1312.3 L1189.0 1312.6 L1190.0 1313.5 L1191.0 1314.1 L1192.0 1315.0 L1193.0 1315.7 L1194.0 1316.1 L1195.0 1316.7 L1196.0 1317.1 L1197.0 1317.5 L1198.0 1318.0 L1199.0 1317.8 L1200.0 1317.8 L1201.0 1318.0 L1202.0 1318.3 L1203.0 1319.0 L1204.0 1319.6 L1205.0 1320.3 L1206.0 1320.7 L1207.0 1321.0 L1208.0 1321.3 L1209.0 1321.0 L1210.0 1321.0 L1211.0 1320.9 L1212.0 1320.7 L1213.0 1321.1 L1214.0 1321.6 L1215.0 1322.6 L1216.0 1323.8 L1217.0 1324.4 L1218.0 1325.2 L1219.0 1325.0 L1220.0 1325.2 L1221.0 1325.2 L1222.0 1324.4 L1223.0 1324.5 L1224.0 1324.0 L1225.0 1324.5 L1226.0 1325.4 L1227.0 1325.7 L1228.0 1326.1 L1229.0 1325.9 L1230.0 1325.9 L1231.0 1326.1 L1232.0 1326.4 L1233.0 1326.8 L1234.0 1327.4 L1235.0 1328.2 L1236.0 1329.0 L1237.0 1329.3 L1238.0 1328.7 L1239.0 1327.4 L1240.0 1326.1 L1241.0 1325.5 L1242.0 1325.7 L1243.0 1326.3 L1244.0 1327.0 L1245.0 1326.8 L1246.0 1326.5 L1247.0 1326.7 L1248.0 1327.2 L1249.0 1328.3 L1250.0 1329.4 L1251.0 1329.6 L1252.0 1329.2 L1253.0 1328.6 L1254.0 1327.9 L1255.0 1327.6 L1256.0 1327.9 L1257.0 1328.1 L1258.0 1328.3 L1259.0 1328.3 L1260.0 1327.7 L1261.0 1327.0 L1262.0 1326.5 L1263.0 1326.3 L1264.0 1326.7 L1265.0 1327.4 L1266.0 1328.2 L1267.0 1328.9 L1268.0 1329.3 L1269.0 1329.5 L1270.0 1329.2 L1271.0 1328.5 L1272.0 1328.1 L1273.0 1328.0 L1274.0 1328.2 L1275.0 1328.6 L1276.0 1328.3 L1277.0 1328.1 L1278.0 1327.8 L1279.0 1327.9 L1280.0 1328.4 L1281.0 1328.6 L1282.0 1328.7 L1283.0 1328.8 L1284.0 1329.3 L1285.0 1329.8 L1286.0 1330.2 L1287.0 1330.3 L1288.0 1329.9 L1289.0 1329.4 L1290.0 1329.1 L1291.0 1329.2 L1292.0 1329.5 L1293.0 1330.3 L1294.0 1330.9 L1295.0 1330.7 L1296.0 1330.5 L1297.0 1329.6 L1298.0 1329.2 L1299.0 1329.3 L1300.0 1329.1 L1301.0 1329.3 L1302.0 1329.3 L1303.0 1329.1 L1304.0 1329.5 L1305.0 1329.7 L1306.0 1330.1 L1307.0 1330.3 L1308.0 1330.6 L1309.0 1330.8 L1310.0 1330.7 L1311.0 1330.6 L1312.0 1329.6 L1313.0 1329.1 L1314.0 1329.0 L1315.0 1329.0 L1316.0 1329.4 L1317.0 1329.5 L1318.0 1329.1 L1319.0 1328.8 L1320.0 1328.7 L1321.0 1328.8 L1322.0 1328.9 L1323.0 1328.6 L1324.0 1327.9 L1325.0 1327.0 L1326.0 1326.5 L1327.0 1326.5 L1328.0 1326.9 L1329.0 1327.4 L1330.0 1327.8 L1331.0 1328.3 L1332.0 1328.8 L1333.0 1329.2 L1334.0 1329.3 L1335.0 1329.0 L1336.0 1328.5 L1337.0 1328.4 L1338.0 1328.7 L1339.0 1329.4 L1340.0 1330.2 L1341.0 1330.7 L1342.0 1330.7 L1343.0 1330.3 L1344.0 1330.1 L1345.0 1329.7 L1346.0 1329.2 L1347.0 1329.1 L1348.0 1328.6 L1349.0 1328.3 L1350.0 1328.4 L1351.0 1328.3 L1352.0 1328.5 L1353.0 1328.6 L1354.0 1328.9 L1355.0 1329.2 L1356.0 1329.6 L1357.0 1330.1 L1358.0 1330.2 L1359.0 1330.2 L1360.0 1330.2 L1361.0 1330.0 L1362.0 1330.5 L1363.0 1330.9 L1364.0 1331.0 L1365.0 1331.1 L1366.0 1330.7 L1367.0 1330.7 L1368.0 1330.6 L1369.0 1330.8 L1370.0 1330.7 L1371.0 1330.1 L1372.0 1329.5 L1373.0 1329.1 L1374.0 1329.0 L1375.0 1329.8 L1376.0 1330.6 L1377.0 1331.1 L1378.0 1331.6 L1379.0 1331.3 L1380.0 1331.1 L1381.0 1330.9 L1382.0 1330.7 L1383.0 1330.8 L1384.0 1330.6 L1385.0 1330.3 L1386.0 1329.8 L1387.0 1329.4 L1388.0 1329.1 L1389.0 1329.1 L1390.0 1329.8 L1391.0 1330.3 L1392.0 1331.3 L1393.0 1332.2 L1394.0 1331.8 L1395.0 1331.5 L1396.0 1331.0 L1397.0 1330.3 L1398.0 1330.3 L1399.0 1330.4 L1400.0 1330.6 L1401.0 1331.2 L1402.0 1331.5 L1403.0 1331.8 L1404.0 1332.2 L1405.0 1332.7 L1406.0 1333.1 L1407.0 1333.6 L1408.0 1333.1 L1409.0 1332.2 L1410.0 1331.1 L1411.0 1330.0 L1412.0 1329.9 L1413.0 1329.8 L1414.0 1329.7 L1415.0 1329.4 L1416.0 1329.1 L1417.0 1329.2 L1418.0 1329.8 L1419.0 1330.5 L1420.0 1331.0 L1421.0 1331.2 L1422.0 1331.0 L1423.0 1330.8 L1424.0 1330.8 L1425.0 1330.9 L1426.0 1330.9 L1427.0 1331.1 L1428.0 1331.2 L1429.0 1331.1 L1430.0 1331.1 L1431.0 1330.8 L1432.0 1330.3 L1433.0 1330.1 L1434.0 1329.5 L1435.0 1329.0 L1436.0 1328.4 L1437.0 1328.0 L1438.0 1328.3 L1439.0 1329.0 L1440.0 1329.9 L1441.0 1330.9 L1442.0 1331.2 L1443.0 1331.0 L1444.0 1330.3 L1445.0 1329.3 L1446.0 1329.1 L1447.0 1329.1 L1448.0 1329.7 L1449.0 1330.2 L1450.0 1330.4 L1451.0 1330.1 L1452.0 1329.9 L1453.0 1329.9 L1454.0 1329.7 L1455.0 1329.8 L1456.0 1329.9 L1457.0 1329.9 L1458.0 1330.5 L1459.0 1331.2 L1460.0 1331.3 L1461.0 1331.3 L1462.0 1330.7 L1463.0 1329.8 L1464.0 1329.5 L1465.0 1329.6 L1466.0 1330.1 L1467.0 1331.0 L1468.0 1331.5 L1469.0 1331.4 L1470.0 1331.2 L1471.0 1330.0 L1472.0 1329.0 L1473.0 1328.3 L1474.0 1327.6 L1475.0 1328.0 L1476.0 1328.6 L1477.0 1329.3 L1478.0 1329.8 L1479.0 1329.7 L1480.0 1329.7 L1481.0 1329.8 L1482.0 1330.2 L1483.0 1330.6 L1484.0 1330.7 L1485.0 1330.8 L1486.0 1330.8 L1487.0 1330.7 L1488.0 1330.8 L1489.0 1330.3 L1490.0 1329.8 L1491.0 1329.0 L1492.0 1328.1 L1493.0 1327.4 L1494.0 1326.4 L1495.0 1325.6 L1496.0 1324.9 L1497.0 1324.1 L1498.0 1323.4 L1499.0 1322.9 L1500.0 1322.1 L1501.0 1321.4 L1502.0 1321.0 L1503.0 1320.3 L1504.0 1319.7 L1505.0 1318.9 L1506.0 1317.9 L1507.0 1317.2 L1508.0 1316.5 L1509.0 1316.3 L1510.0 1316.1 L1511.0 1315.9 L1512.0 1315.9 L1513.0 1315.4 L1514.0 1314.8 L1515.0 1313.9 L1516.0 1312.6 L1517.0 1311.6 L1518.0 1310.7 L1519.0 1309.8 L1520.0 1309.1 L1521.0 1308.1 L1522.0 1307.0 L1523.0 1305.9 L1524.0 1305.0 L1525.0 1304.3 L1526.0 1303.3 L1527.0 1302.5 L1528.0 1301.3 L1529.0 1300.1 L1530.0 1299.3 L1531.0 1298.4 L1532.0 1297.8 L1533.0 1297.6 L1534.0 1296.9 L1535.0 1296.6 L1536.0 1296.4 L1537.0 1296.4 L1538.0 1297.0 L1539.0 1297.4 L1540.0 1298.3 L1541.0 1298.9 L1542.0 1299.1 L1543.0 1299.3 L1544.0 1299.1 L1545.0 1299.0 L1546.0 1299.3 L1547.0 1299.8 L1548.0 1300.5 L1549.0 1301.5 L1550.0 1302.5 L1551.0 1303.2 L1552.0 1303.7 L1553.0 1304.0 L1554.0 1303.9 L1555.0 1303.9 L1556.0 1303.9 L1557.0 1304.3 L1558.0 1304.8 L1559.0 1305.3 L1560.0 1305.9 L1561.0 1305.8 L1562.0 1305.4 L1563.0 1305.0 L1564.0 1304.3 L1565.0 1303.5 L1566.0 1303.4 L1567.0 1302.9 L1568.0 1302.7 L1569.0 1303.2 L1570.0 1303.4 L1571.0 1303.7 L1572.0 1303.7 L1573.0 1303.4 L1574.0 1303.2 L1575.0 1303.1 L1576.0 1303.3 L1577.0 1302.9 L1578.0 1302.6 L1579.0 1301.7 L1580.0 1300.5 L1581.0 1299.8 L1582.0 1298.8 L1583.0 1298.2 L1584.0 1297.4 L1585.0 1296.4 L1586.0 1295.5 L1587.0 1294.7 L1588.0 1294.0 L1589.0 1293.4 L1590.0 1292.5 L1591.0 1291.4 L1592.0 1290.3 L1593.0 1289.2 L1594.0 1288.2 L1595.0 1287.1 L1596.0 1285.9 L1597.0 1284.7 L1598.0 1283.6 L1599.0 1282.8 L1600.0 1281.7 L1601.0 1280.7 L1602.0 1279.5 L1603.0 1278.1 L1604.0 1276.9 L1605.0 1275.4 L1606.0 1273.7 L1607.0 1271.8 L1608.0 1269.7 L1609.0 1267.4 L1610.0 1264.9 L1611.0 1262.2 L1612.0 1259.3 L1613.0 1256.1 L1614.0 1252.8 L1615.0 1249.3 L1616.0 1245.6 L1617.0 1241.6 L1618.0 1237.2 L1619.0 1232.4 L1620.0 1227.1 L1621.0 1221.4 L1622.0 1215.2 L1623.0 1208.6 L1624.0 1201.3 L1625.0 1192.8 L1626.0 1183.4 L1627.0 1173.1 L1628.0 1162.3 L1629.0 1150.1 L1630.0 1136.2 L1631.0 1122.5 L1632.0 1110.5 L1633.0 1099.0 L1634.0 1088.0 L1635.0 1077.3 L1636.0 1066.7 L1637.0 1055.7 L1638.0 1044.7 L1639.0 1034.3 L1640.0 1025.2 L1641.0 1018.2 L1642.0 1012.2 L1643.0 1006.7 L1644.0 1002.1 L1645.0 997.9 L1646.0 994.5 L1647.0 991.4 L1648.0 988.4 L1649.0 985.9 L1650.0 984.2 L1651.0 984.4 L1652.0 984.5 L1653.0 985.2 L1654.0 986.5 L1655.0 987.7 L1656.0 988.9 L1657.0 990.8 L1658.0 993.3 L1659.0 996.2 L1660.0 999.9 L1661.0 1005.0 L1662.0 1012.5 L1663.0 1022.0 L1664.0 1032.9 L1665.0 1044.9 L1666.0 1059.9 L1667.0 1078.7 L1668.0 1099.3 L1669.0 1120.0 L1670.0 1142.3 L1671.0 1166.0 L1672.0 1187.0 L1673.0 1202.0 L1674.0 1214.6 L1675.0 1225.7 L1676.0 1235.0 L1677.0 1242.3 L1678.0 1247.6 L1679.0 1252.2 L1680.0 1256.3 L1681.0 1260.0 L1682.0 1263.3 L1683.0 1266.1 L1684.0 1268.4 L1685.0 1270.2 L1686.0 1271.9 L1687.0 1273.6 L1688.0 1275.4 L1689.0 1277.6 L1690.0 1279.6 L1691.0 1281.5 L1692.0 1283.2 L1693.0 1284.2 L1694.0 1285.2 L1695.0 1285.9 L1696.0 1286.6 L1697.0 1287.4 L1698.0 1287.8 L1699.0 1288.1 L1700.0 1288.3 L1701.0 1288.5 L1702.0 1289.3 L1703.0 1290.0 L1704.0 1290.5 L1705.0 1291.2 L1706.0 1291.5 L1707.0 1292.0 L1708.0 1292.3 L1709.0 1292.5 L1710.0 1292.5 L1711.0 1292.7 L1712.0 1292.9 L1713.0 1293.2 L1714.0 1293.2 L1715.0 1293.2 L1716.0 1293.4 L1717.0 1293.9 L1718.0 1294.6 L1719.0 1294.8 L1720.0 1294.8 L1721.0 1294.5 L1722.0 1294.4 L1723.0 1294.7 L1724.0 1295.2 L1725.0 1295.6 L1726.0 1295.9 L1727.0 1296.1 L1728.0 1296.1 L1729.0 1296.0 L1730.0 1296.0 L1731.0 1295.6 L1732.0 1295.3 L1733.0 1294.9 L1734.0 1294.5 L1735.0 1294.5 L1736.0 1294.4 L1737.0 1294.3 L1738.0 1294.0 L1739.0 1293.5 L1740.0 1293.2 L1741.0 1292.9 L1742.0 1292.4 L1743.0 1292.1 L1744.0 1291.7 L1745.0 1291.1 L1746.0 1290.5 L1747.0 1290.0 L1748.0 1289.5 L1749.0 1288.8 L1750.0 1288.0 L1751.0 1287.3 L1752.0 1286.1 L1753.0 1285.3 L1754.0 1284.4 L1755.0 1283.4 L1756.0 1282.9 L1757.0 1282.6 L1758.0 1282.8 L1759.0 1283.1 L1760.0 1283.5 L1761.0 1283.6 L1762.0 1283.2 L1763.0 1283.2 L1764.0 1283.1 L1765.0 1283.1 L1766.0 1283.5 L1767.0 1284.1 L1768.0 1285.0 L1769.0 1286.0 L1770.0 1287.1 L1771.0 1288.0 L1772.0 1288.8 L1773.0 1289.8 L1774.0 1290.8 L1775.0 1291.9 L1776.0 1293.1 L1777.0 1294.1 L1778.0 1294.8 L1779.0 1295.8 L1780.0 1296.8 L1781.0 1298.1 L1782.0 1299.7 L1783.0 1301.1 L1784.0 1302.3 L1785.0 1303.4 L1786.0 1304.3 L1787.0 1305.0 L1788.0 1305.7 L1789.0 1306.0 L1790.0 1306.2 L1791.0 1306.7 L1792.0 1306.9 L1793.0 1307.7 L1794.0 1309.0 L1795.0 1309.9 L1796.0 1311.1 L1797.0 1312.0 L1798.0 1312.2 L1799.0 1312.3 L1800.0 1312.5 L1801.0 1312.3 L1802.0 1312.5 L1803.0 1313.2 L1804.0 1313.9 L1805.0 1314.6 L1806.0 1315.2 L1807.0 1315.2 L1808.0 1315.3 L1809.0 1315.7 L1810.0 1316.3 L1811.0 1317.3 L1812.0 1317.7 L1813.0 1318.2 L1814.0 1318.5 L1815.0 1318.6 L1816.0 1318.8 L1817.0 1319.0 L1818.0 1319.1 L1819.0 1319.3 L1820.0 1319.8 L1821.0 1319.9 L1822.0 1320.4 L1823.0 1320.8 L1824.0 1320.7 L1825.0 1320.7 L1826.0 1320.4 L1827.0 1319.9 L1828.0 1319.8 L1829.0 1319.5 L1830.0 1319.6 L1831.0 1319.8 L1832.0 1320.2 L1833.0 1321.0 L1834.0 1321.1 L1835.0 1321.2 L1836.0 1321.0 L1837.0 1320.5 L1838.0 1320.6 L1839.0 1320.8 L1840.0 1321.1 L1841.0 1321.0 L1842.0 1320.9 L1843.0 1320.8 L1844.0 1320.4 L1845.0 1320.7 L1846.0 1321.0 L1847.0 1321.3 L1848.0 1321.9 L1849.0 1322.3 L1850.0 1322.3 L1851.0 1322.3 L1852.0 1322.3 L1853.0 1322.0 L1854.0 1322.0 L1855.0 1322.2 L1856.0 1321.6 L1857.0 1321.3 L1858.0 1320.7 L1859.0 1319.6 L1860.0 1319.7 L1861.0 1319.7 L1862.0 1320.3 L1863.0 1321.3 L1864.0 1321.5 L1865.0 1321.8 L1866.0 1321.7 L1867.0 1321.3 L1868.0 1321.2 L1869.0 1321.3 L1870.0 1322.0 L1871.0 1322.3 L1872.0 1322.7 L1873.0 1322.6 L1874.0 1321.9 L1875.0 1321.8 L1876.0 1321.6 L1877.0 1321.6 L1878.0 1321.9 L1879.0 1321.9 L1880.0 1321.9 L1881.0 1321.8 L1882.0 1321.4 L1883.0 1321.0 L1884.0 1320.8 L1885.0 1320.3 L1886.0 1320.4 L1887.0 1320.5 L1888.0 1320.4 L1889.0 1320.6 L1890.0 1320.4 L1891.0 1319.7 L1892.0 1319.2 L1893.0 1318.7 L1894.0 1318.2 L1895.0 1317.7 L1896.0 1317.0 L1897.0 1316.2 L1898.0 1315.1 L1899.0 1314.1 L1900.0 1313.0 L1901.0 1311.3 L1902.0 1309.5 L1903.0 1307.7 L1904.0 1306.0 L1905.0 1304.8 L1906.0 1305.6 L1907.0 1307.2 L1908.0 1309.2 L1909.0 1311.3 L1910.0 1313.5 L1911.0 1315.6 L1912.0 1317.5 L1913.0 1319.4 L1914.0 1320.9 L1915.0 1322.6 L1916.0 1324.2 L1917.0 1325.5 L1918.0 1326.9 L1919.0 1328.2 L1920.0 1329.5 L1921.0 1330.6 L1922.0 1331.4 L1923.0 1331.7 L1924.0 1331.2 L1925.0 1330.6 L1926.0 1330.2 L1927.0 1329.9 L1928.0 1330.3 L1929.0 1330.8 L1930.0 1331.3 L1931.0 1331.4 L1932.0 1331.4 L1933.0 1331.4 L1934.0 1331.6 L1935.0 1331.9 L1936.0 1332.4 L1937.0 1332.9 L1938.0 1332.9 L1939.0 1332.6 L1940.0 1331.9 L1941.0 1330.9 L1942.0 1330.4 L1943.0 1330.3 L1944.0 1330.7 L1945.0 1331.1 L1946.0 1331.4 L1947.0 1331.7 L1948.0 1331.2 L1949.0 1330.8 L1950.0 1330.2 L1951.0 1330.0 L1952.0 1330.6 L1953.0 1331.1 L1954.0 1331.8 L1955.0 1331.4 L1956.0 1330.5 L1957.0 1329.2 L1958.0 1327.6 L1959.0 1327.0 L1960.0 1326.9 L1961.0 1327.1 L1962.0 1327.5 L1963.0 1327.5 L1964.0 1327.2 L1965.0 1327.1 L1966.0 1327.4 L1967.0 1327.7 L1968.0 1328.0 L1969.0 1328.1 L1970.0 1327.9 L1971.0 1327.8 L1972.0 1327.6 L1973.0 1327.4 L1974.0 1326.9 L1975.0 1326.7 L1976.0 1326.5 L1977.0 1326.3 L1978.0 1326.6 L1979.0 1326.8 L1980.0 1327.2 L1981.0 1328.1 L1982.0 1329.2 L1983.0 1330.2 L1984.0 1330.8 L1985.0 1331.1 L1986.0 1330.6 L1987.0 1330.1 L1988.0 1329.3 L1989.0 1328.9 L1990.0 1329.1 L1991.0 1329.2 L1992.0 1329.7 L1993.0 1329.9 L1994.0 1330.1 L1995.0 1330.5 L1996.0 1330.7 L1997.0 1331.4 L1998.0 1331.3 L1999.0 1331.3 L2000.0 1331.5 L2001.0 1331.1 L2002.0 1331.3 L2003.0 1331.1 L2004.0 1330.7 L2005.0 1330.5 L2006.0 1330.4 L2007.0 1330.5 L2008.0 1330.7 L2009.0 1331.2 L2010.0 1331.5 L2011.0 1331.5 L2012.0 1331.7 L2013.0 1331.4 L2014.0 1331.7 L2015.0 1332.2 L2016.0 1332.2 L2017.0 1332.6 L2018.0 1332.2 L2019.0 1331.7 L2020.0 1331.8 L2021.0 1331.6 L2022.0 1331.5 L2023.0 1331.3 L2024.0 1330.9 L2025.0 1330.6 L2026.0 1331.2 L2027.0 1332.0 L2028.0 1332.8 L2029.0 1333.3 L2030.0 1332.8 L2031.0 1332.0 L2032.0 1331.2 L2033.0 1330.7 L2034.0 1330.9 L2035.0 1331.3 L2036.0 1331.6 L2037.0 1331.8 L2038.0 1331.4 L2039.0 1331.2"/>
<path stroke="#0f0" d="M425.0 1303.7 L426.0 1303.2 L427.0 1302.9 L428.0 1302.6 L429.0 1301.8 L430.0 1301.9 L431.0 1302.1 L432.0 1302.1 L433.0 1302.9 L434.0 1303.2 L435.0 1303.2 L436.0 1303.5 L437.0 1303.2 L438.0 1303.1 L439.0 1303.2 L440.0 1303.3 L441.0 1303.6 L442.0 1304.2 L443.0 1304.6 L444.0 1304.9 L445.0 1305.8 L446.0 1306.2 L447.0 1306.4 L448.0 1306.8 L449.0 1306.0 L450.0 1305.8 L451.0 1305.9 L452.0 1305.9 L453.0 1307.1 L454.0 1307.6 L455.0 1308.1 L456.0 1308.2 L457.0 1307.3 L458.0 1307.0 L459.0 1306.6 L460.0 1307.2 L461.0 1308.1 L462.0 1309.1 L463.0 1309.7 L464.0 1309.3 L465.0 1308.8 L466.0 1307.5 L467.0 1306.3 L468.0 1305.2 L469.0 1304.6 L470.0 1304.9 L471.0 1305.6 L472.0 1306.8 L473.0 1307.1 L474.0 1307.1 L475.0 1307.0 L476.0 1306.3 L477.0 1305.9 L478.0 1305.3 L479.0 1304.5 L480.0 1304.2 L481.0 1304.3 L482.0 1304.9 L483.0 1305.0 L484.0 1305.1 L485.0 1305.1 L486.0 1304.8 L487.0 1305.2 L488.0 1305.3 L489.0 1304.8 L490.0 1304.4 L491.0 1303.6 L492.0 1303.6 L493.0 1304.3 L494.0 1305.0 L495.0 1306.3 L496.0 1307.1 L497.0 1307.6 L498.0 1308.1 L499.0 1307.9 L500.0 1307.3 L501.0 1306.4 L502.0 1305.6 L503.0 1304.9 L504.0 1304.7 L505.0 1304.8 L506.0 1304.7 L507.0 1304.4 L508.0 1303.8 L509.0 1303.4 L510.0 1303.5 L511.0 1304.1 L512.0 1305.0 L513.0 1305.5 L514.0 1305.3 L515.0 1304.8 L516.0 1303.9 L517.0 1303.0 L518.0 1302.9 L519.0 1303.1 L520.0 1303.7 L521.0 1304.3 L522.0 1303.9 L523.0 1303.1 L524.0 1302.4 L525.0 1301.6 L526.0 1301.8 L527.0 1301.8 L528.0 1301.9 L529.0 1302.5 L530.0 1303.1 L531.0 1303.9 L532.0 1304.2 L533.0 1304.2 L534.0 1303.7 L535.0 1303.5 L536.0 1303.4 L537.0 1303.2 L538.0 1303.0 L539.0 1302.4 L540.0 1302.0 L541.0 1302.1 L542.0 1302.2 L543.0 1302.5 L544.0 1302.9 L545.0 1302.7 L546.0 1302.6 L547.0 1303.0 L548.0 1303.1 L549.0 1303.5 L550.0 1304.2 L551.0 1304.4 L552.0 1304.5 L553.0 1304.4 L554.0 1303.9 L555.0 1303.6 L556.0 1303.3 L557.0 1303.0 L558.0 1303.0 L559.0 1302.7 L560.0 1302.4 L561.0 1302.8 L562.0 1302.9 L563.0 1303.5 L564.0 1304.6 L565.0 1305.0 L566.0 1305.5 L567.0 1305.4 L568.0 1305.2 L569.0 1305.2 L570.0 1305.5 L571.0 1305.8 L572.0 1306.0 L573.0 1306.1 L574.0 1306.0 L575.0 1306.5 L576.0 1307.1 L577.0 1308.5 L578.0 1309.7 L579.0 1310.5 L580.0 1311.1 L581.0 1310.9 L582.0 1311.1 L583.0 1311.2 L584.0 1311.5 L585.0 1311.4 L586.0 1311.4 L587.0 1311.7 L588.0 1311.3 L589.0 1311.8 L590.0 1311.8 L591.0 1311.3 L592.0 1311.3 L593.0 1310.8 L594.0 1310.8 L595.0 1311.5 L596.0 1312.2 L597.0 1312.9 L598.0 1313.6 L599.0 1314.0 L600.0 1314.4 L601.0 1315.0 L602.0 1315.2 L603.0 1315.4 L604.0 1316.0 L605.0 1316.5 L606.0 1317.4 L607.0 1317.9 L608.0 1318.0 L609.0 1317.8 L610.0 1317.5 L611.0 1317.9 L612.0 1318.9 L613.0 1319.7 L614.0 1320.8 L615.0 1321.0 L616.0 1320.4 L617.0 1320.6 L618.0 1319.9 L619.0 1319.7 L620.0 1320.6 L621.0 1320.5 L622.0 1321.0 L623.0 1321.4 L624.0 1320.6 L625.0 1319.9 L626.0 1319.4 L627.0 1318.8 L628.0 1319.1 L629.0 1320.0 L630.0 1320.6 L631.0 1321.1 L632.0 1321.0 L633.0 1320.2 L634.0 1319.6 L635.0 1319.2 L636.0 1319.4 L637.0 1319.7 L638.0 1319.6 L639.0 1319.6 L640.0 1319.2 L641.0 1319.0 L642.0 1319.2 L643.0 1319.7 L644.0 1320.3 L645.0 1320.5 L646.0 1320.3 L647.0 1319.5 L648.0 1318.9 L649.0 1318.3 L650.0 1318.1 L651.0 1318.4 L652.0 1318.4 L653.0 1318.5 L654.0 1318.7 L655.0 1318.6 L656.0 1318.7 L657.0 1319.2 L658.0 1319.5 L659.0 1319.8 L660.0 1319.8 L661.0 1319.4 L662.0 1318.6 L663.0 1317.7 L664.0 1317.2 L665.0 1316.9 L666.0 1317.1 L667.0 1317.6 L668.0 1317.9 L669.0 1318.0 L670.0 1317.9 L671.0 1317.5 L672.0 1316.8 L673.0 1316.3 L674.0 1316.0 L675.0 1316.1 L676.0 1316.6 L677.0 1317.2 L678.0 1317.7 L679.0 1317.6 L680.0 1317.5 L681.0 1317.0 L682.0 1317.0 L683.0 1317.6 L684.0 1317.8 L685.0 1318.1 L686.0 1318.1 L687.0 1317.5 L688.0 1317.6 L689.0 1317.7 L690.0 1317.4 L691.0 1317.3 L692.0 1317.1 L693.0 1317.1 L694.0 1317.7 L695.0 1317.9 L696.0 1318.2 L697.0 1318.1 L698.0 1317.6 L699.0 1317.4 L700.0 1316.6 L701.0 1315.8 L702.0 1315.2 L703.0 1314.3 L704.0 1314.0 L705.0 1313.5 L706.0 1313.3 L707.0 1313.8 L708.0 1314.7 L709.0 1315.6 L710.0 1315.8 L711.0 1315.9 L712.0 1315.4 L713.0 1315.4 L714.0 1316.3 L715.0 1316.7 L716.0 1316.8 L717.0 1317.0 L718.0 1316.7 L719.0 1317.0 L720.0 1317.9 L721.0 1318.3 L722.0 1318.2 L723.0 1317.9 L724.0 1316.5 L725.0 1315.7 L726.0 1315.2 L727.0 1314.8 L728.0 1315.4 L729.0 1316.0 L730.0 1316.0 L731.0 1315.8 L732.0 1315.2 L733.0 1313.8 L734.0 1313.4 L735.0 1313.6 L736.0 1313.8 L737.0 1314.7 L738.0 1315.4 L739.0 1315.5 L740.0 1315.7 L741.0 1316.0 L742.0 1315.5 L743.0 1315.4 L744.0 1315.2 L745.0 1314.6 L746.0 1314.4 L747.0 1313.9 L748.0 1313.4 L749.0 1313.6 L750.0 1313.8 L751.0 1314.1 L752.0 1314.8 L753.0 1314.9 L754.0 1314.6 L755.0 1314.1 L756.0 1313.5 L757.0 1312.7 L758.0 1312.4 L759.0 1312.4 L760.0 1312.1 L761.0 1312.5 L762.0 1312.9 L763.0 1313.4 L764.0 1313.7 L765.0 1313.7 L766.0 1312.8 L767.0 1311.9 L768.0 1311.7 L769.0 1311.8 L770.0 1313.2 L771.0 1314.4 L772.0 1315.7 L773.0 1317.0 L774.0 1317.2 L775.0 1317.2 L776.0 1316.2 L777.0 1314.6 L778.0 1312.8 L779.0 1311.9 L780.0 1311.6 L781.0 1311.4 L782.0 1312.3 L783.0 1312.9 L784.0 1313.5 L785.0 1314.4 L786.0 1314.5 L787.0 1314.0 L788.0 1313.7 L789.0 1313.3 L790.0 1313.1 L791.0 1313.0 L792.0 1312.9 L793.0 1312.3 L794.0 1311.8 L795.0 1312.4 L796.0 1312.8 L797.0 1313.7 L798.0 1314.2 L799.0 1313.7 L800.0 1313.3 L801.0 1313.2 L802.0 1314.0 L803.0 1314.6 L804.0 1315.1 L805.0 1315.0 L806.0 1313.5 L807.0 1312.0 L808.0 1310.6 L809.0 1309.7 L810.0 1310.3 L811.0 1311.6 L812.0 1312.8 L813.0 1314.0 L814.0 1314.3 L815.0 1314.2 L816.0 1313.7 L817.0 1313.0 L818.0 1312.8 L819.0 1312.7 L820.0 1313.5 L821.0 1314.4 L822.0 1315.0 L823.0 1315.5 L824.0 1314.8 L825.0 1314.0 L826.0 1313.3 L827.0 1312.0 L828.0 1311.9 L829.0 1311.6 L830.0 1311.4 L831.0 1311.8 L832.0 1311.7 L833.0 1312.1 L834.0 1312.0 L835.0 1311.6 L836.0 1311.0 L837.0 1310.0 L838.0 1309.4 L839.0 1309.0 L840.0 1308.9 L841.0 1308.3 L842.0 1307.5 L843.0 1306.5 L844.0 1305.4 L845.0 1305.1 L846.0 1304.8 L847.0 1304.7 L848.0 1304.3 L849.0 1303.8 L850.0 1303.4 L851.0 1302.8 L852.0 1302.5 L853.0 1302.1 L854.0 1301.5 L855.0 1301.0 L856.0 1300.5 L857.0 1299.6 L858.0 1298.6 L859.0 1297.5 L860.0 1296.2 L861.0 1295.1 L862.0 1293.8 L863.0 1292.5 L864.0 1291.5 L865.0 1290.4 L866.0 1289.5 L867.0 1288.5 L868.0 1287.1 L869.0 1286.0 L870.0 1284.9 L871.0 1283.7 L872.0 1282.5 L873.0 1281.0 L874.0 1279.4 L875.0 1278.4 L876.0 1277.6 L877.0 1277.3 L878.0 1277.5 L879.0 1277.1 L880.0 1276.9 L881.0 1276.3 L882.0 1275.2 L883.0 1274.8 L884.0 1274.2 L885.0 1273.4 L886.0 1273.1 L887.0 1272.6 L888.0 1272.5 L889.0 1272.6 L890.0 1272.6 L891.0 1272.1 L892.0 1271.4 L893.0 1270.9 L894.0 1270.3 L895.0 1270.0 L896.0 1269.4 L897.0 1268.7 L898.0 1268.4 L899.0 1267.8 L900.0 1267.7 L901.0 1267.2 L902.0 1266.4 L903.0 1266.1 L904.0 1265.5 L905.0 1265.5 L906.0 1265.2 L907.0 1264.4 L908.0 1263.7 L909.0 1262.5 L910.0 1261.6 L911.0 1260.9 L912.0 1260.4 L913.0 1260.1 L914.0 1259.9 L915.0 1259.6 L916.0 1259.1 L917.0 1258.4 L918.0 1257.6 L919.0 1256.9 L920.0 1256.3 L921.0 1255.6 L922.0 1254.9 L923.0 1254.0 L924.0 1253.2 L925.0 1252.4 L926.0 1251.2 L927.0 1250.4 L928.0 1249.1 L929.0 1247.8 L930.0 1247.0 L931.0 1245.8 L932.0 1244.8 L933.0 1243.6 L934.0 1241.8 L935.0 1239.9 L936.0 1238.2 L937.0 1236.8 L938.0 1235.8 L939.0 1235.2 L940.0 1234.1 L941.0 1232.9 L942.0 1231.6 L943.0 1230.7 L944.0 1230.1 L945.0 1229.6 L946.0 1229.3 L947.0 1228.6 L948.0 1228.0 L949.0 1227.6 L950.0 1226.9 L951.0 1226.1 L952.0 1224.9 L953.0 1223.8 L954.0 1222.6 L955.0 1221.3 L956.0 1220.1 L957.0 1218.6 L958.0 1217.5 L959.0 1216.6 L960.0 1215.6 L961.0 1214.9 L962.0 1213.6 L963.0 1212.1 L964.0 1210.9 L965.0 1209.5 L966.0 1208.1 L967.0 1206.7 L968.0 1205.0 L969.0 1203.5 L970.0 1202.3 L971.0 1201.0 L972.0 1199.9 L973.0 1198.4 L974.0 1196.8 L975.0 1195.1 L976.0 1193.1 L977.0 1191.4 L978.0 1189.7 L979.0 1188.0 L980.0 1186.4 L981.0 1184.6 L982.0 1182.7 L983.0 1181.0 L984.0 1179.2 L985.0 1177.2 L986.0 1175.2 L987.0 1173.1 L988.0 1170.8 L989.0 1168.5 L990.0 1165.8 L991.0 1162.9 L992.0 1159.6 L993.0 1156.0 L994.0 1152.2 L995.0 1148.2 L996.0 1144.0 L997.0 1139.2 L998.0 1133.9 L999.0 1128.1 L1000.0 1122.0 L1001.0 1115.7 L1002.0 1109.3 L1003.0 1102.9 L1004.0 1096.0 L1005.0 1089.0 L1006.0 1082.0 L1007.0 1075.4 L1008.0 1069.1 L1009.0 1063.0 L1010.0 1056.9 L1011.0 1051.5 L1012.0 1047.6 L1013.0 1044.4 L1014.0 1041.5 L1015.0 1039.9 L1016.0 1039.5 L1017.0 1040.6 L1018.0 1043.6 L1019.0 1046.9 L1020.0 1051.2 L1021.0 1056.7 L1022.0 1062.8 L1023.0 1068.9 L1024.0 1075.2 L1025.0 1082.3 L1026.0 1089.5 L1027.0 1096.3 L1028.0 1102.2 L1029.0 1106.8 L1030.0 1110.7 L1031.0 1114.5 L1032.0 1117.8 L1033.0 1120.7 L1034.0 1123.5 L1035.0 1125.7 L1036.0 1127.7 L1037.0 1129.4 L1038.0 1130.9 L1039.0 1132.2 L1040.0 1133.6 L1041.0 1134.8 L1042.0 1136.1 L1043.0 1137.4 L1044.0 1138.6 L1045.0 1139.6 L1046.0 1140.6 L1047.0 1141.5 L1048.0 1142.2 L1049.0 1143.4 L1050.0 1144.4 L1051.0 1145.5 L1052.0 1146.8 L1053.0 1148.0 L1054.0 1149.6 L1055.0 1151.0 L1056.0 1152.4 L1057.0 1153.7 L1058.0 1154.5 L1059.0 1155.3 L1060.0 1155.8 L1061.0 1156.5 L1062.0 1157.4 L1063.0 1158.7 L1064.0 1160.0 L1065.0 1160.9 L1066.0 1161.5 L1067.0 1161.8 L1068.0 1162.3 L1069.0 1163.1 L1070.0 1164.1 L1071.0 1165.1 L1072.0 1165.7 L1073.0 1166.3 L1074.0 1166.5 L1075.0 1166.7 L1076.0 1167.2 L1077.0 1167.0 L1078.0 1167.2 L1079.0 1167.2 L1080.0 1166.9 L1081.0 1166.4 L1082.0 1165.4 L1083.0 1164.3 L1084.0 1163.2 L1085.0 1162.9 L1086.0 1162.9 L1087.0 1163.0 L1088.0 1162.8 L1089.0 1162.2 L1090.0 1161.3 L1091.0 1160.2 L1092.0 1159.0 L1093.0 1157.6 L1094.0 1156.1 L1095.0 1154.5 L1096.0 1153.0 L1097.0 1151.0 L1098.0 1148.8 L1099.0 1145.7 L1100.0 1141.4 L1101.0 1136.2 L1102.0 1130.2 L1103.0 1123.5 L1104.0 1115.8 L1105.0 1105.7 L1106.0 1093.6 L1107.0 1080.6 L1108.0 1066.7 L1109.0 1051.2 L1110.0 1034.8 L1111.0 1017.3 L1112.0 997.4 L1113.0 977.7 L1114.0 961.1 L1115.0 950.6 L1116.0 942.4 L1117.0 920.0 L1118.0 885.0 L1119.0 854.9 L1120.0 821.4 L1121.0 770.7 L1122.0 693.0 L1123.0 606.3 L1124.0 559.2 L1125.0 538.0 L1126.0 542.9 L1127.0 565.0 L1128.0 604.3 L1129.0 668.9 L1130.0 757.6 L1131.0 833.0 L1132.0 885.1 L1133.0 923.8 L1134.0 943.5 L1135.0 951.1 L1136.0 956.7 L1137.0 964.4 L1138.0 973.2 L1139.0 982.8 L1140.0 993.8 L1141.0 1007.8 L1142.0 1024.4 L1143.0 1041.7 L1144.0 1058.0 L1145.0 1074.2 L1146.0 1090.4 L1147.0 1105.8 L1148.0 1121.0 L1149.0 1136.1 L1150.0 1150.1 L1151.0 1162.5 L1152.0 1173.1 L1153.0 1182.5 L1154.0 1191.3 L1155.0 1199.7 L1156.0 1208.3 L1157.0 1217.3 L1158.0 1225.6 L1159.0 1232.7 L1160.0 1237.7 L1161.0 1241.0 L1162.0 1244.0 L1163.0 1246.6 L1164.0 1248.8 L1165.0 1250.7 L1166.0 1252.2 L1167.0 1253.6 L1168.0 1255.0 L1169.0 1256.6 L1170.0 1258.6 L1171.0 1260.3 L1172.0 1262.3 L1173.0 1263.6 L1174.0 1264.7 L1175.0 1265.8 L1176.0 1266.3 L1177.0 1267.0 L1178.0 1267.6 L1179.0 1268.1 L1180.0 1269.1 L1181.0 1269.8 L1182.0 1270.5 L1183.0 1271.2 L1184.0 1272.0 L1185.0 1272.5 L1186.0 1273.0 L1187.0 1273.3 L1188.0 1273.8 L1189.0 1274.4 L1190.0 1275.1 L1191.0 1275.5 L1192.0 1275.6 L1193.0 1275.8 L1194.0 1276.2 L1195.0 1277.0 L1196.0 1277.8 L1197.0 1278.8 L1198.0 1279.7 L1199.0 1280.4 L1200.0 1281.6 L1201.0 1282.6 L1202.0 1283.5 L1203.0 1284.3 L1204.0 1285.0 L1205.0 1285.4 L1206.0 1285.7 L1207.0 1286.0 L1208.0 1286.0 L1209.0 1286.1 L1210.0 1286.3 L1211.0 1286.9 L1212.0 1287.6 L1213.0 1288.8 L1214.0 1290.0 L1215.0 1290.8 L1216.0 1291.4 L1217.0 1291.5 L1218.0 1291.4 L1219.0 1291.5 L1220.0 1291.5 L1221.0 1292.0 L1222.0 1292.3 L1223.0 1292.5 L1224.0 1292.4 L1225.0 1292.0 L1226.0 1291.7 L1227.0 1291.6 L1228.0 1291.9 L1229.0 1292.1 L1230.0 1292.1 L1231.0 1292.1 L1232.0 1291.9 L1233.0 1292.2 L1234.0 1292.4 L1235.0 1292.6 L1236.0 1292.9 L1237.0 1292.9 L1238.0 1293.2 L1239.0 1293.5 L1240.0 1293.9 L1241.0 1294.5 L1242.0 1294.7 L1243.0 1294.4 L1244.0 1294.0 L1245.0 1293.1 L1246.0 1292.3 L1247.0 1292.1 L1248.0 1291.9 L1249.0 1292.5 L1250.0 1293.0 L1251.0 1293.2 L1252.0 1293.0 L1253.0 1292.4 L1254.0 1292.2 L1255.0 1292.4 L1256.0 1292.9 L1257.0 1293.3 L1258.0 1293.7 L1259.0 1293.7 L1260.0 1293.8 L1261.0 1294.4 L1262.0 1294.7 L1263.0 1295.3 L1264.0 1295.8 L1265.0 1295.6 L1266.0 1295.3 L1267.0 1295.2 L1268.0 1295.3 L1269.0 1295.7 L1270.0 1296.3 L1271.0 1296.6 L1272.0 1296.2 L1273.0 1296.3 L1274.0 1296.5 L1275.0 1296.1 L1276.0 1296.4 L1277.0 1296.2 L1278.0 1295.2 L1279.0 1294.8 L1280.0 1294.1 L1281.0 1293.7 L1282.0 1294.7 L1283.0 1295.7 L1284.0 1296.8 L1285.0 1297.6 L1286.0 1297.1 L1287.0 1296.7 L1288.0 1296.1 L1289.0 1295.2 L1290.0 1294.2 L1291.0 1293.2 L1292.0 1292.6 L1293.0 1292.4 L1294.0 1293.0 L1295.0 1293.5 L1296.0 1293.4 L1297.0 1293.3 L1298.0 1293.0 L1299.0 1293.3 L1300.0 1294.1 L1301.0 1294.7 L1302.0 1295.3 L1303.0 1295.4 L1304.0 1295.2 L1305.0 1295.4 L1306.0 1295.9 L1307.0 1296.5 L1308.0 1296.8 L1309.0 1296.5 L1310.0 1295.6 L1311.0 1294.3 L1312.0 1293.5 L1313.0 1292.9 L1314.0 1293.1 L1315.0 1293.5 L1316.0 1293.8 L1317.0 1294.2 L1318.0 1294.7 L1319.0 1294.8 L1320.0 1294.7 L1321.0 1295.2 L1322.0 1294.9 L1323.0 1295.1 L1324.0 1295.6 L1325.0 1294.9 L1326.0 1294.8 L1327.0 1294.8 L1328.0 1295.0 L1329.0 1295.8 L1330.0 1295.8 L1331.0 1295.5 L1332.0 1295.1 L1333.0 1295.0 L1334.0 1295.7 L1335.0 1296.5 L1336.0 1296.8 L1337.0 1296.5 L1338.0 1295.8 L1339.0 1294.7 L1340.0 1294.1 L1341.0 1293.8 L1342.0 1294.0 L1343.0 1295.0 L1344.0 1296.1 L1345.0 1297.2 L1346.0 1297.5 L1347.0 1296.9 L1348.0 1295.6 L1349.0 1294.3 L1350.0 1293.6 L1351.0 1293.7 L1352.0 1294.4 L1353.0 1295.1 L1354.0 1295.4 L1355.0 1295.3 L1356.0 1295.4 L1357.0 1295.6 L1358.0 1295.7 L1359.0 1296.0 L1360.0 1295.5 L1361.0 1294.7 L1362.0 1294.4 L1363.0 1294.5 L1364.0 1295.5 L1365.0 1296.9 L1366.0 1297.9 L1367.0 1298.3 L1368.0 1298.3 L1369.0 1297.9 L1370.0 1296.8 L1371.0 1295.7 L1372.0 1295.0 L1373.0 1294.4 L1374.0 1294.6 L1375.0 1295.3 L1376.0 1295.3 L1377.0 1295.4 L1378.0 1295.8 L1379.0 1295.8 L1380.0 1296.3 L1381.0 1296.8 L1382.0 1296.6 L1383.0 1296.5 L1384.0 1296.2 L1385.0 1296.3 L1386.0 1296.7 L1387.0 1297.2 L1388.0 1297.6 L1389.0 1297.2 L1390.0 1296.6 L1391.0 1296.1 L1392.0 1295.4 L1393.0 1295.2 L1394.0 1295.1 L1395.0 1294.4 L1396.0 1294.1 L1397.0 1293.9 L1398.0 1293.7 L1399.0 1294.1 L1400.0 1294.6 L1401.0 1295.0 L1402.0 1296.0 L1403.0 1296.6 L1404.0 1296.9 L1405.0 1296.6 L1406.0 1295.9 L1407.0 1295.8 L1408.0 1296.2 L1409.0 1297.4 L1410.0 1298.9 L1411.0 1299.0 L1412.0 1298.4 L1413.0 1297.0 L1414.0 1295.4 L1415.0 1295.3 L1416.0 1295.5 L1417.0 1296.1 L1418.0 1296.7 L1419.0 1296.1 L1420.0 1295.6 L1421.0 1294.9 L1422.0 1294.3 L1423.0 1294.2 L1424.0 1294.4 L1425.0 1294.9 L1426.0 1295.3 L1427.0 1296.3 L1428.0 1296.6 L1429.0 1296.5 L1430.0 1296.4 L1431.0 1295.2 L1432.0 1294.4 L1433.0 1293.9 L1434.0 1293.5 L1435.0 1293.5 L1436.0 1293.6 L1437.0 1293.7 L1438.0 1294.2 L1439.0 1294.5 L1440.0 1295.1 L1441.0 1295.6 L1442.0 1295.3 L1443.0 1295.3 L1444.0 1294.8 L1445.0 1294.0 L1446.0 1293.9 L1447.0 1294.1 L1448.0 1294.4 L1449.0 1295.1 L1450.0 1295.6 L1451.0 1295.7 L1452.0 1296.3 L1453.0 1297.1 L1454.0 1297.9 L1455.0 1298.3 L1456.0 1298.5 L1457.0 1298.1 L1458.0 1297.8 L1459.0 1297.6 L1460.0 1296.9 L1461.0 1296.2 L1462.0 1295.2 L1463.0 1294.3 L1464.0 1293.5 L1465.0 1293.2 L1466.0 1292.9 L1467.0 1292.6 L1468.0 1292.8 L1469.0 1292.5 L1470.0 1292.7 L1471.0 1292.8 L1472.0 1292.2 L1473.0 1291.5 L1474.0 1290.4 L1475.0 1289.4 L1476.0 1288.6 L1477.0 1287.6 L1478.0 1287.0 L1479.0 1286.3 L1480.0 1285.3 L1481.0 1285.3 L1482.0 1285.2 L1483.0 1285.7 L1484.0 1286.8 L1485.0 1287.8 L1486.0 1288.7 L1487.0 1289.4 L1488.0 1289.7 L1489.0 1289.8 L1490.0 1289.9 L1491.0 1289.8 L1492.0 1289.7 L1493.0 1290.1 L1494.0 1289.7 L1495.0 1289.4 L1496.0 1289.0 L1497.0 1288.3 L1498.0 1287.7 L1499.0 1287.2 L1500.0 1286.3 L1501.0 1285.2 L1502.0 1284.5 L1503.0 1283.3 L1504.0 1282.6 L1505.0 1282.1 L1506.0 1281.5 L1507.0 1281.5 L1508.0 1281.6 L1509.0 1281.5 L1510.0 1281.4 L1511.0 1281.2 L1512.0 1281.0 L1513.0 1281.1 L1514.0 1281.1 L1515.0 1281.0 L1516.0 1280.6 L1517.0 1280.0 L1518.0 1279.1 L1519.0 1278.0 L1520.0 1276.9 L1521.0 1275.5 L1522.0 1274.4 L1523.0 1273.2 L1524.0 1271.8 L1525.0 1269.9 L1526.0 1267.8 L1527.0 1266.2 L1528.0 1264.8 L1529.0 1264.5 L1530.0 1264.6 L1531.0 1264.4 L1532.0 1264.3 L1533.0 1263.9 L1534.0 1263.3 L1535.0 1262.9 L1536.0 1262.3 L1537.0 1261.4 L1538.0 1260.7 L1539.0 1260.0 L1540.0 1259.5 L1541.0 1259.7 L1542.0 1260.0 L1543.0 1259.9 L1544.0 1260.0 L1545.0 1259.5 L1546.0 1258.8 L1547.0 1258.8 L1548.0 1258.7 L1549.0 1258.8 L1550.0 1259.5 L1551.0 1259.9 L1552.0 1260.6 L1553.0 1261.7 L1554.0 1262.6 L1555.0 1263.4 L1556.0 1263.7 L1557.0 1263.2 L1558.0 1263.1 L1559.0 1263.1 L1560.0 1263.6 L1561.0 1264.2 L1562.0 1264.5 L1563.0 1264.4 L1564.0 1264.5 L1565.0 1264.6 L1566.0 1264.7 L1567.0 1265.2 L1568.0 1265.4 L1569.0 1265.7 L1570.0 1265.7 L1571.0 1265.3 L1572.0 1265.0 L1573.0 1264.7 L1574.0 1264.8 L1575.0 1265.0 L1576.0 1265.4 L1577.0 1265.4 L1578.0 1265.2 L1579.0 1264.6 L1580.0 1263.5 L1581.0 1262.7 L1582.0 1262.6 L1583.0 1263.0 L1584.0 1263.9 L1585.0 1265.0 L1586.0 1265.7 L1587.0 1266.0 L1588.0 1266.4 L1589.0 1266.5 L1590.0 1266.9 L1591.0 1266.8 L1592.0 1266.9 L1593.0 1266.5 L1594.0 1265.7 L1595.0 1265.3 L1596.0 1264.6 L1597.0 1264.6 L1598.0 1265.4 L1599.0 1266.0 L1600.0 1267.1 L1601.0 1268.0 L1602.0 1267.8 L1603.0 1267.9 L1604.0 1267.6 L1605.0 1266.9 L1606.0 1266.1 L1607.0 1265.1 L1608.0 1263.7 L1609.0 1262.0 L1610.0 1260.8 L1611.0 1259.3 L1612.0 1257.9 L1613.0 1257.0 L1614.0 1255.6 L1615.0 1254.7 L1616.0 1253.6 L1617.0 1252.2 L1618.0 1250.9 L1619.0 1249.2 L1620.0 1247.8 L1621.0 1246.3 L1622.0 1244.6 L1623.0 1242.8 L1624.0 1240.5 L1625.0 1238.2 L1626.0 1235.8 L1627.0 1233.4 L1628.0 1231.0 L1629.0 1228.4 L1630.0 1225.4 L1631.0 1222.2 L1632.0 1218.7 L1633.0 1214.9 L1634.0 1210.9 L1635.0 1206.6 L1636.0 1202.3 L1637.0 1197.6 L1638.0 1192.8 L1639.0 1187.2 L1640.0 1181.1 L1641.0 1174.6 L1642.0 1167.6 L1643.0 1160.4 L1644.0 1152.9 L1645.0 1145.0 L1646.0 1135.9 L1647.0 1125.4 L1648.0 1114.5 L1649.0 1104.1 L1650.0 1095.0 L1651.0 1087.1 L1652.0 1079.5 L1653.0 1072.3 L1654.0 1065.4 L1655.0 1058.9 L1656.0 1053.0 L1657.0 1047.7 L1658.0 1042.9 L1659.0 1038.3 L1660.0 1034.2 L1661.0 1030.8 L1662.0 1028.6 L1663.0 1027.3 L1664.0 1026.3 L1665.0 1026.7 L1666.0 1025.9 L1667.0 1026.8 L1668.0 1028.2 L1669.0 1030.2 L1670.0 1033.4 L1671.0 1037.4 L1672.0 1042.3 L1673.0 1048.6 L1674.0 1058.9 L1675.0 1072.2 L1676.0 1086.7 L1677.0 1101.0 L1678.0 1113.9 L1679.0 1127.3 L1680.0 1140.7 L1681.0 1153.5 L1682.0 1165.0 L1683.0 1174.6 L1684.0 1183.6 L1685.0 1191.8 L1686.0 1199.2 L1687.0 1205.2 L1688.0 1210.1 L1689.0 1214.4 L1690.0 1218.4 L1691.0 1222.0 L1692.0 1225.1 L1693.0 1227.9 L1694.0 1230.2 L1695.0 1231.7 L1696.0 1233.3 L1697.0 1234.6 L1698.0 1235.8 L1699.0 1237.2 L1700.0 1238.5 L1701.0 1239.7 L1702.0 1240.8 L1703.0 1242.1 L1704.0 1243.2 L1705.0 1244.1 L1706.0 1244.5 L1707.0 1244.2 L1708.0 1243.9 L1709.0 1243.3 L1710.0 1243.5 L1711.0 1244.0 L1712.0 1244.8 L1713.0 1245.6 L1714.0 1245.5 L1715.0 1246.0 L1716.0 1246.4 L1717.0 1247.4 L1718.0 1249.3 L1719.0 1250.2 L1720.0 1250.8 L1721.0 1250.8 L1722.0 1250.0 L1723.0 1249.5 L1724.0 1249.8 L1725.0 1249.6 L1726.0 1249.6 L1727.0 1249.9 L1728.0 1249.5 L1729.0 1249.4 L1730.0 1249.8 L1731.0 1250.0 L1732.0 1250.1 L1733.0 1250.4 L1734.0 1250.3 L1735.0 1250.6 L1736.0 1250.9 L1737.0 1251.0 L1738.0 1250.8 L1739.0 1250.5 L1740.0 1249.9 L1741.0 1249.5 L1742.0 1249.5 L1743.0 1249.1 L1744.0 1249.4 L1745.0 1249.3 L1746.0 1249.3 L1747.0 1249.0 L1748.0 1248.5 L1749.0 1248.6 L1750.0 1248.3 L1751.0 1248.6 L1752.0 1248.7 L1753.0 1249.1 L1754.0 1250.2 L1755.0 1251.2 L1756.0 1251.9 L1757.0 1252.2 L1758.0 1251.5 L1759.0 1250.9 L1760.0 1250.4 L1761.0 1249.3 L1762.0 1249.1 L1763.0 1248.9 L1764.0 1249.3 L1765.0 1250.5 L1766.0 1251.3 L1767.0 1252.1 L1768.0 1252.5 L1769.0 1252.4 L1770.0 1251.9 L1771.0 1251.1 L1772.0 1250.3 L1773.0 1249.6 L1774.0 1249.4 L1775.0 1249.2 L1776.0 1249.3 L1777.0 1250.2 L1778.0 1250.8 L1779.0 1251.4 L1780.0 1251.6 L1781.0 1251.0 L1782.0 1250.6 L1783.0 1250.6 L1784.0 1250.9 L1785.0 1251.4 L1786.0 1251.7 L1787.0 1251.9 L1788.0 1251.8 L1789.0 1252.2 L1790.0 1253.2 L1791.0 1253.7 L1792.0 1254.4 L1793.0 1254.7 L1794.0 1254.4 L1795.0 1254.5 L1796.0 1254.7 L1797.0 1254.9 L1798.0 1255.4 L1799.0 1255.9 L1800.0 1256.0 L1801.0 1256.4 L1802.0 1256.7 L1803.0 1256.8 L1804.0 1257.3 L1805.0 1257.7 L1806.0 1258.1 L1807.0 1258.8 L1808.0 1259.5 L1809.0 1260.4 L1810.0 1261.4 L1811.0 1262.8 L1812.0 1263.8 L1813.0 1264.5 L1814.0 1264.8 L1815.0 1265.0 L1816.0 1265.6 L1817.0 1266.3 L1818.0 1267.2 L1819.0 1267.3 L1820.0 1267.3 L1821.0 1267.2 L1822.0 1267.5 L1823.0 1268.6 L1824.0 1269.4 L1825.0 1270.3 L1826.0 1270.6 L1827.0 1270.9 L1828.0 1271.9 L1829.0 1272.9 L1830.0 1274.3 L1831.0 1275.1 L1832.0 1275.3 L1833.0 1275.4 L1834.0 1275.1 L1835.0 1275.4 L1836.0 1275.0 L1837.0 1274.5 L1838.0 1273.7 L1839.0 1272.9 L1840.0 1272.8 L1841.0 1273.3 L1842.0 1274.3 L1843.0 1275.1 L1844.0 1275.9 L1845.0 1276.2 L1846.0 1276.2 L1847.0 1276.3 L1848.0 1276.1 L1849.0 1275.2 L1850.0 1274.7 L1851.0 1273.7 L1852.0 1274.1 L1853.0 1275.8 L1854.0 1276.9 L1855.0 1278.0 L1856.0 1277.6 L1857.0 1276.3 L1858.0 1276.0 L1859.0 1276.0 L1860.0 1276.5 L1861.0 1276.6 L1862.0 1275.5 L1863.0 1273.7 L1864.0 1272.6 L1865.0 1272.3 L1866.0 1273.0 L1867.0 1274.4 L1868.0 1275.6 L1869.0 1276.4 L1870.0 1277.2 L1871.0 1277.7 L1872.0 1277.9 L1873.0 1278.1 L1874.0 1278.1 L1875.0 1277.8 L1876.0 1277.7 L1877.0 1277.5 L1878.0 1277.7 L1879.0 1278.2 L1880.0 1279.1 L1881.0 1280.5 L1882.0 1281.6 L1883.0 1282.6 L1884.0 1283.3 L1885.0 1283.1 L1886.0 1283.0 L1887.0 1282.4 L1888.0 1281.7 L1889.0 1281.3 L1890.0 1280.4 L1891.0 1280.0 L1892.0 1280.2 L1893.0 1280.5 L1894.0 1280.9 L1895.0 1281.0 L1896.0 1280.8 L1897.0 1280.5 L1898.0 1280.9 L1899.0 1281.3 L1900.0 1281.8 L1901.0 1282.2 L1902.0 1281.9 L1903.0 1281.3 L1904.0 1280.4 L1905.0 1279.2 L1906.0 1278.5 L1907.0 1277.9 L1908.0 1278.1 L1909.0 1276.5 L1910.0 1271.9 L1911.0 1266.9 L1912.0 1263.2 L1913.0 1260.5 L1914.0 1258.3 L1915.0 1257.3 L1916.0 1258.0 L1917.0 1260.3 L1918.0 1263.1 L1919.0 1267.5 L1920.0 1273.9 L1921.0 1280.3 L1922.0 1284.5 L1923.0 1286.8 L1924.0 1288.3 L1925.0 1289.4 L1926.0 1290.3 L1927.0 1290.9 L1928.0 1291.7 L1929.0 1292.2 L1930.0 1292.5 L1931.0 1292.9 L1932.0 1293.4 L1933.0 1294.1 L1934.0 1294.4 L1935.0 1294.7 L1936.0 1294.2 L1937.0 1293.8 L1938.0 1293.7 L1939.0 1293.3 L1940.0 1293.9 L1941.0 1294.2 L1942.0 1294.0 L1943.0 1294.5 L1944.0 1294.3 L1945.0 1294.3 L1946.0 1295.0 L1947.0 1295.1 L1948.0 1295.9 L1949.0 1296.9 L1950.0 1297.2 L1951.0 1297.8 L1952.0 1297.9 L1953.0 1297.6 L1954.0 1297.4 L1955.0 1297.2 L1956.0 1297.1 L1957.0 1297.5 L1958.0 1297.8 L1959.0 1297.9 L1960.0 1298.2 L1961.0 1298.0 L1962.0 1297.7 L1963.0 1297.1 L1964.0 1296.5 L1965.0 1296.7 L1966.0 1297.2 L1967.0 1298.3 L1968.0 1299.3 L1969.0 1299.7 L1970.0 1299.6 L1971.0 1299.6 L1972.0 1299.6 L1973.0 1299.9 L1974.0 1300.0 L1975.0 1299.8 L1976.0 1299.7 L1977.0 1299.1 L1978.0 1298.9 L1979.0 1298.8 L1980.0 1297.7 L1981.0 1297.8 L1982.0 1297.7 L1983.0 1297.9 L1984.0 1298.9 L1985.0 1299.6 L1986.0 1300.4 L1987.0 1301.0 L1988.0 1301.8 L1989.0 1302.1 L1990.0 1302.4 L1991.0 1303.2 L1992.0 1302.7 L1993.0 1302.7 L1994.0 1302.3 L1995.0 1301.4 L1996.0 1301.8 L1997.0 1301.5 L1998.0 1301.6 L1999.0 1302.0 L2000.0 1301.5 L2001.0 1301.8 L2002.0 1301.6 L2003.0 1300.8 L2004.0 1300.0 L2005.0 1299.0 L2006.0 1299.4 L2007.0 1300.6 L2008.0 1302.2 L2009.0 1303.7 L2010.0 1303.5 L2011.0 1303.2 L2012.0 1302.4 L2013.0 1301.9 L2014.0 1301.8 L2015.0 1301.7 L2016.0 1301.5 L2017.0 1300.6 L2018.0 1300.1 L2019.0 1299.0 L2020.0 1298.5 L2021.0 1299.0 L2022.0 1299.2 L2023.0 1300.5 L2024.0 1301.2 L2025.0 1301.5 L2026.0 1301.9 L2027.0 1301.7 L2028.0 1302.1 L2029.0 1302.6 L2030.0 1303.4 L2031.0 1304.4 L2032.0 1304.1 L2033.0 1303.4 L2034.0 1302.4 L2035.0 1301.4 L2036.0 1301.1 L2037.0 1300.9 L2038.0 1301.0 L2039.0 1300.8"/>
<path stroke="#00f" d="M425.0 1239.7 L426.0 1238.9 L427.0 1238.2 L428.0 1237.6 L429.0 1238.5 L430.0 1240.1 L431.0 1241.5 L432.0 1242.8 L433.0 1243.0 L434.0 1243.1 L435.0 1243.9 L436.0 1244.7 L437.0 1245.6 L438.0 1246.3 L439.0 1246.9 L440.0 1247.9 L441.0 1249.3 L442.0 1250.8 L443.0 1251.4 L444.0 1251.8 L445.0 1252.8 L446.0 1253.5 L447.0 1254.9 L448.0 1256.1 L449.0 1255.9 L450.0 1255.6 L451.0 1254.9 L452.0 1254.0 L453.0 1253.7 L454.0 1253.7 L455.0 1254.0 L456.0 1254.7 L457.0 1255.4 L458.0 1256.3 L459.0 1257.8 L460.0 1258.6 L461.0 1259.6 L462.0 1260.3 L463.0 1259.5 L464.0 1259.8 L465.0 1259.2 L466.0 1259.2 L467.0 1260.1 L468.0 1260.7 L469.0 1261.7 L470.0 1261.4 L471.0 1261.0 L472.0 1260.5 L473.0 1260.3 L474.0 1261.9 L475.0 1264.0 L476.0 1266.0 L477.0 1267.6 L478.0 1268.4 L479.0 1268.1 L480.0 1267.7 L481.0 1267.6 L482.0 1266.5 L483.0 1266.5 L484.0 1266.5 L485.0 1266.2 L486.0 1268.2 L487.0 1268.7 L488.0 1269.5 L489.0 1271.0 L490.0 1270.0 L491.0 1269.9 L492.0 1270.1 L493.0 1269.2 L494.0 1270.1 L495.0 1271.2 L496.0 1272.2 L497.0 1273.9 L498.0 1274.9 L499.0 1275.1 L500.0 1274.2 L501.0 1271.9 L502.0 1269.5 L503.0 1267.1 L504.0 1266.2 L505.0 1268.0 L506.0 1269.1 L507.0 1271.1 L508.0 1271.9 L509.0 1270.7 L510.0 1270.3 L511.0 1269.7 L512.0 1269.7 L513.0 1269.6 L514.0 1270.3 L515.0 1270.5 L516.0 1270.9 L517.0 1272.0 L518.0 1272.0 L519.0 1272.3 L520.0 1272.7 L521.0 1273.0 L522.0 1273.5 L523.0 1274.6 L524.0 1274.4 L525.0 1273.7 L526.0 1273.0 L527.0 1271.9 L528.0 1272.3 L529.0 1274.0 L530.0 1276.1 L531.0 1278.3 L532.0 1280.5 L533.0 1280.7 L534.0 1278.9 L535.0 1277.5 L536.0 1274.6 L537.0 1274.0 L538.0 1275.6 L539.0 1276.6 L540.0 1278.7 L541.0 1279.7 L542.0 1279.2 L543.0 1279.0 L544.0 1278.4 L545.0 1278.5 L546.0 1279.4 L547.0 1280.1 L548.0 1280.8 L549.0 1280.2 L550.0 1280.5 L551.0 1280.9 L552.0 1281.5 L553.0 1283.0 L554.0 1283.1 L555.0 1282.6 L556.0 1282.2 L557.0 1282.2 L558.0 1282.5 L559.0 1283.7 L560.0 1284.7 L561.0 1284.6 L562.0 1283.6 L563.0 1282.7 L564.0 1282.1 L565.0 1282.2 L566.0 1283.3 L567.0 1283.5 L568.0 1283.4 L569.0 1283.3 L570.0 1283.4 L571.0 1284.5 L572.0 1285.7 L573.0 1286.5 L574.0 1287.1 L575.0 1286.7 L576.0 1285.5 L577.0 1285.1 L578.0 1285.1 L579.0 1286.0 L580.0 1287.6 L581.0 1288.1 L582.0 1288.0 L583.0 1287.3 L584.0 1287.1 L585.0 1287.5 L586.0 1288.5 L587.0 1290.4 L588.0 1292.3 L589.0 1294.9 L590.0 1297.0 L591.0 1298.1 L592.0 1298.2 L593.0 1297.3 L594.0 1296.4 L595.0 1295.4 L596.0 1295.0 L597.0 1294.8 L598.0 1294.9 L599.0 1295.7 L600.0 1296.5 L601.0 1297.2 L602.0 1297.2 L603.0 1297.4 L604.0 1298.0 L605.0 1298.9 L606.0 1300.6 L607.0 1301.1 L608.0 1300.9 L609.0 1300.7 L610.0 1300.5 L611.0 1301.3 L612.0 1302.7 L613.0 1304.1 L614.0 1304.1 L615.0 1303.8 L616.0 1303.4 L617.0 1302.9 L618.0 1303.7 L619.0 1305.6 L620.0 1307.5 L621.0 1309.6 L622.0 1311.9 L623.0 1313.3 L624.0 1314.2 L625.0 1314.8 L626.0 1314.6 L627.0 1313.4 L628.0 1312.7 L629.0 1311.7 L630.0 1309.7 L631.0 1308.6 L632.0 1307.4 L633.0 1307.9 L634.0 1310.8 L635.0 1314.0 L636.0 1315.8 L637.0 1316.0 L638.0 1314.2 L639.0 1312.1 L640.0 1311.6 L641.0 1311.0 L642.0 1311.4 L643.0 1310.7 L644.0 1309.0 L645.0 1308.9 L646.0 1308.4 L647.0 1310.3 L648.0 1311.8 L649.0 1312.4 L650.0 1313.2 L651.0 1311.9 L652.0 1312.3 L653.0 1312.2 L654.0 1311.9 L655.0 1312.8 L656.0 1311.8 L657.0 1311.5 L658.0 1310.9 L659.0 1309.6 L660.0 1309.6 L661.0 1309.9 L662.0 1311.1 L663.0 1313.5 L664.0 1314.8 L665.0 1315.5 L666.0 1314.8 L667.0 1312.4 L668.0 1310.1 L669.0 1308.1 L670.0 1307.2 L671.0 1307.5 L672.0 1308.6 L673.0 1309.2 L674.0 1310.0 L675.0 1311.0 L676.0 1312.2 L677.0 1313.5 L678.0 1314.6 L679.0 1314.5 L680.0 1313.2 L681.0 1312.9 L682.0 1312.9 L683.0 1314.2 L684.0 1316.9 L685.0 1318.1 L686.0 1318.6 L687.0 1318.1 L688.0 1316.6 L689.0 1315.8 L690.0 1315.8 L691.0 1316.5 L692.0 1317.7 L693.0 1318.9 L694.0 1319.2 L695.0 1318.0 L696.0 1316.7 L697.0 1315.1 L698.0 1314.1 L699.0 1314.5 L700.0 1314.4 L701.0 1313.4 L702.0 1312.9 L703.0 1311.9 L704.0 1311.6 L705.0 1313.1 L706.0 1313.9 L707.0 1315.4 L708.0 1317.2 L709.0 1317.7 L710.0 1318.4 L711.0 1319.0 L712.0 1319.2 L713.0 1320.3 L714.0 1320.9 L715.0 1320.5 L716.0 1320.5 L717.0 1318.9 L718.0 1316.8 L719.0 1315.6 L720.0 1313.7 L721.0 1312.6 L722.0 1313.5 L723.0 1313.4 L724.0 1314.4 L725.0 1315.8 L726.0 1315.3 L727.0 1315.9 L728.0 1315.3 L729.0 1314.6 L730.0 1315.4 L731.0 1316.1 L732.0 1317.5 L733.0 1318.5 L734.0 1318.3 L735.0 1316.7 L736.0 1314.6 L737.0 1312.5 L738.0 1310.2 L739.0 1310.1 L740.0 1310.4 L741.0 1312.1 L742.0 1315.3 L743.0 1316.8 L744.0 1318.3 L745.0 1317.7 L746.0 1315.5 L747.0 1315.0 L748.0 1314.8 L749.0 1316.2 L750.0 1318.0 L751.0 1318.8 L752.0 1317.9 L753.0 1315.8 L754.0 1313.0 L755.0 1310.2 L756.0 1309.6 L757.0 1310.7 L758.0 1312.7 L759.0 1315.5 L760.0 1318.1 L761.0 1319.4 L762.0 1320.1 L763.0 1319.7 L764.0 1318.6 L765.0 1317.0 L766.0 1317.0 L767.0 1316.4 L768.0 1316.3 L769.0 1316.7 L770.0 1315.0 L771.0 1314.5 L772.0 1314.7 L773.0 1314.8 L774.0 1316.3 L775.0 1318.3 L776.0 1318.5 L777.0 1318.6 L778.0 1318.1 L779.0 1316.2 L780.0 1315.6 L781.0 1315.5 L782.0 1315.3 L783.0 1316.7 L784.0 1317.4 L785.0 1318.2 L786.0 1318.7 L787.0 1318.0 L788.0 1318.2 L789.0 1317.0 L790.0 1315.9 L791.0 1315.0 L792.0 1314.1 L793.0 1313.6 L794.0 1312.8 L795.0 1312.5 L796.0 1311.4 L797.0 1311.5 L798.0 1313.7 L799.0 1315.0 L800.0 1316.7 L801.0 1317.4 L802.0 1316.4 L803.0 1316.5 L804.0 1316.2 L805.0 1315.4 L806.0 1314.1 L807.0 1311.4 L808.0 1309.7 L809.0 1309.0 L810.0 1308.8 L811.0 1309.7 L812.0 1310.0 L813.0 1310.1 L814.0 1310.1 L815.0 1310.1 L816.0 1309.4 L817.0 1308.5 L818.0 1308.1 L819.0 1307.0 L820.0 1306.4 L821.0 1305.7 L822.0 1304.6 L823.0 1303.9 L824.0 1303.1 L825.0 1302.0 L826.0 1300.8 L827.0 1299.0 L828.0 1297.4 L829.0 1296.3 L830.0 1295.5 L831.0 1295.3 L832.0 1294.5 L833.0 1293.3 L834.0 1292.2 L835.0 1291.0 L836.0 1290.3 L837.0 1289.7 L838.0 1288.6 L839.0 1286.6 L840.0 1284.9 L841.0 1283.7 L842.0 1283.0 L843.0 1283.6 L844.0 1283.1 L845.0 1282.4 L846.0 1281.6 L847.0 1280.8 L848.0 1281.2 L849.0 1281.4 L850.0 1281.1 L851.0 1280.0 L852.0 1277.8 L853.0 1275.1 L854.0 1272.8 L855.0 1270.6 L856.0 1269.1 L857.0 1268.0 L858.0 1267.6 L859.0 1267.8 L860.0 1268.4 L861.0 1268.7 L862.0 1267.8 L863.0 1266.7 L864.0 1264.7 L865.0 1263.1 L866.0 1262.5 L867.0 1262.0 L868.0 1262.2 L869.0 1262.3 L870.0 1261.7 L871.0 1260.8 L872.0 1259.1 L873.0 1257.7 L874.0 1256.2 L875.0 1255.1 L876.0 1253.6 L877.0 1251.8 L878.0 1250.6 L879.0 1249.2 L880.0 1249.1 L881.0 1248.4 L882.0 1246.9 L883.0 1245.1 L884.0 1242.5 L885.0 1240.9 L886.0 1239.5 L887.0 1238.6 L888.0 1237.6 L889.0 1236.7 L890.0 1236.3 L891.0 1236.0 L892.0 1236.2 L893.0 1235.5 L894.0 1234.4 L895.0 1232.8 L896.0 1230.7 L897.0 1229.5 L898.0 1228.4 L899.0 1227.9 L900.0 1227.5 L901.0 1226.4 L902.0 1225.1 L903.0 1223.4 L904.0 1222.5 L905.0 1221.8 L906.0 1221.0 L907.0 1220.6 L908.0 1219.5 L909.0 1218.8 L910.0 1218.1 L911.0 1216.7 L912.0 1215.3 L913.0 1213.4 L914.0 1211.7 L915.0 1210.3 L916.0 1208.7 L917.0 1207.3 L918.0 1205.5 L919.0 1203.3 L920.0 1201.1 L921.0 1198.8 L922.0 1196.7 L923.0 1195.0 L924.0 1193.7 L925.0 1192.3 L926.0 1190.7 L927.0 1189.4 L928.0 1187.5 L929.0 1186.3 L930.0 1185.0 L931.0 1183.2 L932.0 1181.8 L933.0 1179.6 L934.0 1177.9 L935.0 1176.5 L936.0 1174.5 L937.0 1173.0 L938.0 1171.8 L939.0 1170.4 L940.0 1169.9 L941.0 1168.7 L942.0 1167.1 L943.0 1165.2 L944.0 1163.0 L945.0 1161.4 L946.0 1160.0 L947.0 1158.9 L948.0 1157.7 L949.0 1155.8 L950.0 1153.5 L951.0 1150.7 L952.0 1147.3 L953.0 1144.0 L954.0 1140.6 L955.0 1137.0 L956.0 1133.3 L957.0 1129.6 L958.0 1126.0 L959.0 1122.4 L960.0 1118.8 L961.0 1115.5 L962.0 1112.1 L963.0 1109.0 L964.0 1106.1 L965.0 1102.6 L966.0 1099.4 L967.0 1095.9 L968.0 1091.8 L969.0 1087.5 L970.0 1082.2 L971.0 1076.5 L972.0 1069.9 L973.0 1062.6 L974.0 1055.1 L975.0 1047.4 L976.0 1039.5 L977.0 1032.1 L978.0 1025.1 L979.0 1018.8 L980.0 1012.8 L981.0 1006.4 L982.0 999.5 L983.0 992.0 L984.0 984.1 L985.0 975.6 L986.0 966.2 L987.0 955.2 L988.0 942.6 L989.0 928.9 L990.0 914.3 L991.0 899.3 L992.0 884.1 L993.0 869.2 L994.0 853.8 L995.0 837.7 L996.0 821.5 L997.0 805.1 L998.0 789.1 L999.0 773.7 L1000.0 759.1 L1001.0 744.8 L1002.0 730.4 L1003.0 715.3 L1004.0 699.0 L1005.0 678.6 L1006.0 659.1 L1007.0 648.7 L1008.0 641.4 L1009.0 635.4 L1010.0 629.6 L1011.0 624.0 L1012.0 623.0 L1013.0 626.4 L1014.0 632.6 L1015.0 642.3 L1016.0 655.0 L1017.0 670.7 L1018.0 688.8 L1019.0 706.1 L1020.0 722.7 L1021.0 739.0 L1022.0 755.2 L1023.0 771.6 L1024.0 788.1 L1025.0 804.6 L1026.0 821.2 L1027.0 837.8 L1028.0 854.6 L1029.0 871.6 L1030.0 889.8 L1031.0 909.9 L1032.0 930.0 L1033.0 948.3 L1034.0 962.8 L1035.0 972.9 L1036.0 981.2 L1037.0 988.2 L1038.0 994.3 L1039.0 999.7 L1040.0 1004.6 L1041.0 1009.1 L1042.0 1013.1 L1043.0 1017.0 L1044.0 1021.0 L1045.0 1024.8 L1046.0 1028.8 L1047.0 1032.5 L1048.0 1035.9 L1049.0 1039.4 L1050.0 1042.9 L1051.0 1046.3 L1052.0 1049.4 L1053.0 1052.1 L1054.0 1054.5 L1055.0 1056.9 L1056.0 1059.7 L1057.0 1062.2 L1058.0 1064.5 L1059.0 1066.2 L1060.0 1066.8 L1061.0 1067.9 L1062.0 1069.6 L1063.0 1071.1 L1064.0 1073.1 L1065.0 1074.6 L1066.0 1075.8 L1067.0 1077.6 L1068.0 1079.2 L1069.0 1080.9 L1070.0 1082.3 L1071.0 1083.0 L1072.0 1083.2 L1073.0 1081.1 L1074.0 1079.5 L1075.0 1077.7 L1076.0 1076.5 L1077.0 1076.4 L1078.0 1075.3 L1079.0 1075.0 L1080.0 1074.0 L1081.0 1072.5 L1082.0 1072.0 L1083.0 1070.9 L1084.0 1070.7 L1085.0 1071.1 L1086.0 1071.1 L1087.0 1071.4 L1088.0 1070.4 L1089.0 1068.5 L1090.0 1066.0 L1091.0 1063.4 L1092.0 1060.7 L1093.0 1056.6 L1094.0 1051.4 L1095.0 1045.1 L1096.0 1038.2 L1097.0 1031.1 L1098.0 1022.6 L1099.0 1012.4 L1100.0 1002.4 L1101.0 994.3 L1102.0 988.8 L1103.0 984.2 L1104.0 978.8 L1105.0 971.3 L1106.0 961.2 L1107.0 948.7 L1108.0 933.5 L1109.0 912.8 L1110.0 888.5 L1111.0 863.0 L1112.0 835.1 L1113.0 804.4 L1114.0 770.7 L1115.0 731.4 L1116.0 692.9 L1117.0 657.9 L1118.0 625.8 L1119.0 597.3 L1120.0 572.6 L1121.0 556.6 L1122.0 545.5 L1123.0 536.8 L1124.0 540.6 L1125.0 554.8 L1126.0 575.6 L1127.0 599.0 L1128.0 626.0 L1129.0 659.9 L1130.0 693.1 L1131.0 720.2 L1132.0 744.9 L1133.0 768.4 L1134.0 792.1 L1135.0 816.4 L1136.0 840.3 L1137.0 862.4 L1138.0 881.2 L1139.0 896.6 L1140.0 910.3 L1141.0 924.1 L1142.0 939.9 L1143.0 959.6 L1144.0 981.1 L1145.0 1001.3 L1146.0 1021.2 L1147.0 1039.7 L1148.0 1055.8 L1149.0 1070.2 L1150.0 1083.3 L1151.0 1095.5 L1152.0 1107.1 L1153.0 1118.2 L1154.0 1128.9 L1155.0 1139.3 L1156.0 1149.2 L1157.0 1158.4 L1158.0 1167.2 L1159.0 1174.9 L1160.0 1182.0 L1161.0 1188.8 L1162.0 1195.9 L1163.0 1203.9 L1164.0 1213.4 L1165.0 1223.2 L1166.0 1232.0 L1167.0 1238.2 L1168.0 1242.4 L1169.0 1245.9 L1170.0 1248.8 L1171.0 1251.7 L1172.0 1254.4 L1173.0 1257.0 L1174.0 1259.5 L1175.0 1261.7 L1176.0 1264.5 L1177.0 1266.9 L1178.0 1269.0 L1179.0 1271.3 L1180.0 1272.7 L1181.0 1274.8 L1182.0 1276.8 L1183.0 1278.4 L1184.0 1280.6 L1185.0 1282.3 L1186.0 1284.0 L1187.0 1285.1 L1188.0 1285.3 L1189.0 1285.5 L1190.0 1285.6 L1191.0 1286.3 L1192.0 1287.7 L1193.0 1289.7 L1194.0 1291.8 L1195.0 1294.5 L1196.0 1296.3 L1197.0 1297.3 L1198.0 1298.2 L1199.0 1298.4 L1200.0 1299.1 L1201.0 1299.7 L1202.0 1299.6 L1203.0 1298.1 L1204.0 1297.0 L1205.0 1296.2 L1206.0 1296.4 L1207.0 1297.3 L1208.0 1296.0 L1209.0 1293.9 L1210.0 1291.5 L1211.0 1289.1 L1212.0 1287.2 L1213.0 1286.3 L1214.0 1286.4 L1215.0 1287.5 L1216.0 1289.1 L1217.0 1291.5 L1218.0 1294.7 L1219.0 1298.2 L1220.0 1301.0 L1221.0 1302.5 L1222.0 1302.4 L1223.0 1301.3 L1224.0 1299.6 L1225.0 1299.4 L1226.0 1299.0 L1227.0 1299.7 L1228.0 1301.1 L1229.0 1300.9 L1230.0 1301.6 L1231.0 1302.3 L1232.0 1303.6 L1233.0 1305.8 L1234.0 1308.4 L1235.0 1310.3 L1236.0 1310.6 L1237.0 1310.6 L1238.0 1309.9 L1239.0 1308.9 L1240.0 1308.9 L1241.0 1309.6 L1242.0 1310.2 L1243.0 1311.3 L1244.0 1313.3 L1245.0 1314.2 L1246.0 1316.0 L1247.0 1317.5 L1248.0 1317.2 L1249.0 1317.0 L1250.0 1315.4 L1251.0 1314.1 L1252.0 1313.8 L1253.0 1313.1 L1254.0 1312.3 L1255.0 1311.1 L1256.0 1309.7 L1257.0 1310.1 L1258.0 1310.7 L1259.0 1311.6 L1260.0 1312.0 L1261.0 1310.7 L1262.0 1310.9 L1263.0 1310.7 L1264.0 1310.7 L1265.0 1311.7 L1266.0 1311.9 L1267.0 1312.5 L1268.0 1313.9 L1269.0 1314.3 L1270.0 1313.5 L1271.0 1313.0 L1272.0 1311.8 L1273.0 1311.1 L1274.0 1311.6 L1275.0 1312.0 L1276.0 1313.1 L1277.0 1314.9 L1278.0 1316.7 L1279.0 1317.8 L1280.0 1318.5 L1281.0 1318.1 L1282.0 1317.3 L1283.0 1316.1 L1284.0 1314.7 L1285.0 1314.3 L1286.0 1313.3 L1287.0 1313.7 L1288.0 1314.4 L1289.0 1313.8 L1290.0 1315.2 L1291.0 1315.5 L1292.0 1315.8 L1293.0 1317.6 L1294.0 1317.6 L1295.0 1317.8 L1296.0 1317.0 L1297.0 1315.2 L1298.0 1313.7 L1299.0 1312.7 L1300.0 1313.7 L1301.0 1315.2 L1302.0 1315.5 L1303.0 1315.9 L1304.0 1314.7 L1305.0 1312.9 L1306.0 1312.7 L1307.0 1311.4 L1308.0 1311.2 L1309.0 1311.4 L1310.0 1311.8 L1311.0 1313.3 L1312.0 1314.0 L1313.0 1314.6 L1314.0 1313.0 L1315.0 1310.8 L1316.0 1308.8 L1317.0 1306.8 L1318.0 1306.3 L1319.0 1306.3 L1320.0 1307.2 L1321.0 1308.0 L1322.0 1309.8 L1323.0 1311.4 L1324.0 1311.5 L1325.0 1311.7 L1326.0 1311.4 L1327.0 1310.9 L1328.0 1311.1 L1329.0 1310.8 L1330.0 1310.7 L1331.0 1310.7 L1332.0 1310.8 L1333.0 1312.2 L1334.0 1312.5 L1335.0 1312.5 L1336.0 1312.6 L1337.0 1312.5 L1338.0 1313.1 L1339.0 1313.6 L1340.0 1315.3 L1341.0 1315.5 L1342.0 1315.4 L1343.0 1315.9 L1344.0 1314.3 L1345.0 1313.9 L1346.0 1314.2 L1347.0 1314.0 L1348.0 1316.0 L1349.0 1317.8 L1350.0 1319.7 L1351.0 1321.7 L1352.0 1322.0 L1353.0 1321.7 L1354.0 1320.1 L1355.0 1317.7 L1356.0 1316.2 L1357.0 1314.9 L1358.0 1315.1 L1359.0 1315.6 L1360.0 1315.8 L1361.0 1316.3 L1362.0 1315.6 L1363.0 1316.9 L1364.0 1317.6 L1365.0 1318.0 L1366.0 1318.6 L1367.0 1317.1 L1368.0 1316.1 L1369.0 1315.1 L1370.0 1314.7 L1371.0 1315.1 L1372.0 1316.0 L1373.0 1316.8 L1374.0 1317.6 L1375.0 1318.0 L1376.0 1317.7 L1377.0 1318.2 L1378.0 1317.6 L1379.0 1317.9 L1380.0 1318.5 L1381.0 1318.9 L1382.0 1320.4 L1383.0 1321.2 L1384.0 1321.4 L1385.0 1320.7 L1386.0 1319.8 L1387.0 1319.1 L1388.0 1318.7 L1389.0 1318.4 L1390.0 1317.5 L1391.0 1316.3 L1392.0 1315.0 L1393.0 1315.1 L1394.0 1315.8 L1395.0 1316.8 L1396.0 1318.4 L1397.0 1318.0 L1398.0 1318.5 L1399.0 1318.5 L1400.0 1318.1 L1401.0 1318.0 L1402.0 1316.0 L1403.0 1315.5 L1404.0 1315.0 L1405.0 1315.2 L1406.0 1315.9 L1407.0 1314.7 L1408.0 1314.0 L1409.0 1313.0 L1410.0 1313.1 L1411.0 1314.5 L1412.0 1315.6 L1413.0 1317.0 L1414.0 1317.5 L1415.0 1316.6 L1416.0 1316.1 L1417.0 1314.8 L1418.0 1314.3 L1419.0 1315.2 L1420.0 1314.7 L1421.0 1315.8 L1422.0 1315.7 L1423.0 1315.7 L1424.0 1316.5 L1425.0 1316.2 L1426.0 1317.2 L1427.0 1316.8 L1428.0 1317.8 L1429.0 1319.0 L1430.0 1318.0 L1431.0 1318.9 L1432.0 1318.4 L1433.0 1317.4 L1434.0 1318.5 L1435.0 1318.3 L1436.0 1316.7 L1437.0 1315.6 L1438.0 1314.2 L1439.0 1312.8 L1440.0 1314.2 L1441.0 1316.3 L1442.0 1316.7 L1443.0 1317.0 L1444.0 1315.3 L1445.0 1312.2 L1446.0 1311.1 L1447.0 1311.0 L1448.0 1311.4 L1449.0 1311.9 L1450.0 1312.0 L1451.0 1311.7 L1452.0 1311.9 L1453.0 1313.2 L1454.0 1313.3 L1455.0 1313.3 L1456.0 1313.9 L1457.0 1313.6 L1458.0 1314.0 L1459.0 1314.5 L1460.0 1314.1 L1461.0 1313.6 L1462.0 1313.7 L1463.0 1314.1 L1464.0 1314.7 L1465.0 1314.9 L1466.0 1314.5 L1467.0 1313.0 L1468.0 1311.2 L1469.0 1311.0 L1470.0 1311.8 L1471.0 1313.0 L1472.0 1314.1 L1473.0 1313.9 L1474.0 1312.3 L1475.0 1311.7 L1476.0 1312.0 L1477.0 1312.5 L1478.0 1314.3 L1479.0 1314.2 L1480.0 1313.4 L1481.0 1312.5 L1482.0 1310.9 L1483.0 1310.8 L1484.0 1311.4 L1485.0 1312.3 L1486.0 1313.0 L1487.0 1312.7 L1488.0 1311.7 L1489.0 1310.4 L1490.0 1309.4 L1491.0 1308.5 L1492.0 1308.0 L1493.0 1307.3 L1494.0 1306.7 L1495.0 1306.2 L1496.0 1305.2 L1497.0 1303.6 L1498.0 1302.7 L1499.0 1302.0 L1500.0 1301.4 L1501.0 1301.5 L1502.0 1300.8 L1503.0 1299.6 L1504.0 1298.7 L1505.0 1298.1 L1506.0 1297.4 L1507.0 1296.9 L1508.0 1296.7 L1509.0 1295.5 L1510.0 1294.6 L1511.0 1293.8 L1512.0 1292.6 L1513.0 1292.0 L1514.0 1291.5 L1515.0 1291.0 L1516.0 1290.7 L1517.0 1290.6 L1518.0 1289.8 L1519.0 1288.8 L1520.0 1286.8 L1521.0 1284.5 L1522.0 1282.7 L1523.0 1281.5 L1524.0 1281.3 L1525.0 1281.0 L1526.0 1281.0 L1527.0 1280.3 L1528.0 1279.3 L1529.0 1279.2 L1530.0 1279.0 L1531.0 1279.0 L1532.0 1278.8 L1533.0 1278.0 L1534.0 1277.0 L1535.0 1276.5 L1536.0 1276.4 L1537.0 1275.4 L1538.0 1274.1 L1539.0 1271.8 L1540.0 1268.7 L1541.0 1267.1 L1542.0 1266.3 L1543.0 1267.1 L1544.0 1269.3 L1545.0 1271.4 L1546.0 1273.0 L1547.0 1273.6 L1548.0 1273.3 L1549.0 1272.0 L1550.0 1271.3 L1551.0 1270.1 L1552.0 1268.8 L1553.0 1268.9 L1554.0 1269.6 L1555.0 1270.3 L1556.0 1271.9 L1557.0 1272.6 L1558.0 1271.4 L1559.0 1270.4 L1560.0 1268.8 L1561.0 1267.2 L1562.0 1266.3 L1563.0 1265.7 L1564.0 1265.5 L1565.0 1265.7 L1566.0 1265.7 L1567.0 1265.2 L1568.0 1264.6 L1569.0 1263.8 L1570.0 1263.3 L1571.0 1263.1 L1572.0 1262.5 L1573.0 1261.6 L1574.0 1260.7 L1575.0 1259.9 L1576.0 1258.9 L1577.0 1257.7 L1578.0 1256.5 L1579.0 1255.0 L1580.0 1253.6 L1581.0 1253.3 L1582.0 1253.2 L1583.0 1253.1 L1584.0 1253.6 L1585.0 1252.8 L1586.0 1252.3 L1587.0 1251.9 L1588.0 1251.5 L1589.0 1251.3 L1590.0 1250.2 L1591.0 1248.7 L1592.0 1246.6 L1593.0 1244.4 L1594.0 1242.5 L1595.0 1240.6 L1596.0 1238.9 L1597.0 1237.4 L1598.0 1235.9 L1599.0 1234.2 L1600.0 1232.5 L1601.0 1230.3 L1602.0 1227.4 L1603.0 1224.1 L1604.0 1220.6 L1605.0 1216.8 L1606.0 1213.1 L1607.0 1209.7 L1608.0 1206.2 L1609.0 1202.4 L1610.0 1198.7 L1611.0 1194.9 L1612.0 1191.4 L1613.0 1188.5 L1614.0 1185.2 L1615.0 1181.6 L1616.0 1177.6 L1617.0 1173.5 L1618.0 1169.7 L1619.0 1166.1 L1620.0 1162.5 L1621.0 1158.6 L1622.0 1154.6 L1623.0 1150.0 L1624.0 1145.3 L1625.0 1140.5 L1626.0 1135.4 L1627.0 1130.6 L1628.0 1125.5 L1629.0 1120.4 L1630.0 1114.9 L1631.0 1108.8 L1632.0 1102.2 L1633.0 1095.2 L1634.0 1088.1 L1635.0 1081.1 L1636.0 1074.7 L1637.0 1068.4 L1638.0 1062.4 L1639.0 1056.8 L1640.0 1052.1 L1641.0 1048.7 L1642.0 1045.8 L1643.0 1042.8 L1644.0 1039.8 L1645.0 1037.6 L1646.0 1035.9 L1647.0 1036.3 L1648.0 1038.8 L1649.0 1041.0 L1650.0 1044.0 L1651.0 1046.9 L1652.0 1049.2 L1653.0 1052.0 L1654.0 1056.8 L1655.0 1063.4 L1656.0 1071.1 L1657.0 1078.9 L1658.0 1086.3 L1659.0 1093.7 L1660.0 1101.1 L1661.0 1108.7 L1662.0 1116.1 L1663.0 1123.4 L1664.0 1131.1 L1665.0 1138.9 L1666.0 1146.6 L1667.0 1153.9 L1668.0 1160.7 L1669.0 1167.1 L1670.0 1173.1 L1671.0 1178.7 L1672.0 1183.1 L1673.0 1186.6 L1674.0 1189.3 L1675.0 1191.7 L1676.0 1194.6 L1677.0 1197.4 L1678.0 1200.4 L1679.0 1203.0 L1680.0 1205.4 L1681.0 1208.2 L1682.0 1211.3 L1683.0 1214.4 L1684.0 1217.6 L1685.0 1220.1 L1686.0 1222.2 L1687.0 1223.8 L1688.0 1225.4 L1689.0 1226.9 L1690.0 1228.4 L1691.0 1230.7 L1692.0 1232.8 L1693.0 1234.7 L1694.0 1236.4 L1695.0 1236.8 L1696.0 1236.5 L1697.0 1236.5 L1698.0 1235.8 L1699.0 1235.7 L1700.0 1235.9 L1701.0 1236.3 L1702.0 1237.8 L1703.0 1238.4 L1704.0 1238.9 L1705.0 1238.4 L1706.0 1237.1 L1707.0 1237.1 L1708.0 1237.5 L1709.0 1238.9 L1710.0 1240.4 L1711.0 1241.6 L1712.0 1242.7 L1713.0 1243.5 L1714.0 1245.3 L1715.0 1246.8 L1716.0 1247.4 L1717.0 1247.8 L1718.0 1246.5 L1719.0 1245.2 L1720.0 1244.8 L1721.0 1245.0 L1722.0 1246.1 L1723.0 1246.4 L1724.0 1246.0 L1725.0 1244.7 L1726.0 1242.8 L1727.0 1242.0 L1728.0 1242.3 L1729.0 1243.2 L1730.0 1243.9 L1731.0 1243.7 L1732.0 1242.4 L1733.0 1240.9 L1734.0 1240.5 L1735.0 1239.8 L1736.0 1239.7 L1737.0 1240.2 L1738.0 1239.4 L1739.0 1239.0 L1740.0 1238.2 L1741.0 1235.7 L1742.0 1234.2 L1743.0 1232.6 L1744.0 1231.3 L1745.0 1231.2 L1746.0 1229.7 L1747.0 1228.6 L1748.0 1227.3 L1749.0 1226.1 L1750.0 1227.6 L1751.0 1228.6 L1752.0 1230.3 L1753.0 1231.8 L1754.0 1231.9 L1755.0 1232.3 L1756.0 1232.7 L1757.0 1232.8 L1758.0 1232.6 L1759.0 1233.1 L1760.0 1233.4 L1761.0 1235.2 L1762.0 1237.9 L1763.0 1240.9 L1764.0 1243.4 L1765.0 1244.1 L1766.0 1243.8 L1767.0 1242.6 L1768.0 1241.2 L1769.0 1239.0 L1770.0 1238.3 L1771.0 1238.6 L1772.0 1238.8 L1773.0 1239.5 L1774.0 1239.2 L1775.0 1239.2 L1776.0 1240.3 L1777.0 1241.3 L1778.0 1242.9 L1779.0 1244.8 L1780.0 1246.3 L1781.0 1247.9 L1782.0 1249.4 L1783.0 1250.6 L1784.0 1252.6 L1785.0 1255.2 L1786.0 1257.4 L1787.0 1259.6 L1788.0 1260.3 L1789.0 1259.7 L1790.0 1259.4 L1791.0 1258.5 L1792.0 1258.5 L1793.0 1259.3 L1794.0 1260.4 L1795.0 1261.7 L1796.0 1263.5 L1797.0 1265.3 L1798.0 1267.2 L1799.0 1268.9 L1800.0 1270.6 L1801.0 1271.4 L1802.0 1271.1 L1803.0 1271.2 L1804.0 1270.8 L1805.0 1271.8 L1806.0 1273.9 L1807.0 1276.2 L1808.0 1278.1 L1809.0 1279.2 L1810.0 1280.2 L1811.0 1280.3 L1812.0 1280.3 L1813.0 1280.3 L1814.0 1279.6 L1815.0 1280.0 L1816.0 1281.2 L1817.0 1283.3 L1818.0 1285.9 L1819.0 1287.2 L1820.0 1288.0 L1821.0 1288.3 L1822.0 1288.3 L1823.0 1289.4 L1824.0 1290.6 L1825.0 1292.0 L1826.0 1293.1 L1827.0 1294.3 L1828.0 1295.1 L1829.0 1296.0 L1830.0 1297.2 L1831.0 1296.8 L1832.0 1297.1 L1833.0 1296.7 L1834.0 1296.2 L1835.0 1298.0 L1836.0 1298.7 L1837.0 1298.6 L1838.0 1297.5 L1839.0 1294.6 L1840.0 1291.5 L1841.0 1289.4 L1842.0 1288.2 L1843.0 1288.1 L1844.0 1289.9 L1845.0 1290.6 L1846.0 1291.4 L1847.0 1292.0 L1848.0 1292.1 L1849.0 1293.2 L1850.0 1294.6 L1851.0 1296.9 L1852.0 1299.0 L1853.0 1300.7 L1854.0 1301.7 L1855.0 1301.5 L1856.0 1301.5 L1857.0 1301.0 L1858.0 1300.2 L1859.0 1299.3 L1860.0 1298.0 L1861.0 1296.4 L1862.0 1295.8 L1863.0 1296.2 L1864.0 1297.5 L1865.0 1299.7 L1866.0 1301.7 L1867.0 1302.6 L1868.0 1302.0 L1869.0 1301.2 L1870.0 1300.8 L1871.0 1300.7 L1872.0 1302.5 L1873.0 1304.2 L1874.0 1303.9 L1875.0 1302.2 L1876.0 1299.3 L1877.0 1296.2 L1878.0 1295.6 L1879.0 1295.4 L1880.0 1295.4 L1881.0 1295.4 L1882.0 1293.9 L1883.0 1294.2 L1884.0 1295.1 L1885.0 1295.8 L1886.0 1297.0 L1887.0 1297.7 L1888.0 1298.1 L1889.0 1298.2 L1890.0 1297.7 L1891.0 1296.4 L1892.0 1294.4 L1893.0 1292.7 L1894.0 1291.2 L1895.0 1290.3 L1896.0 1289.8 L1897.0 1289.7 L1898.0 1290.2 L1899.0 1291.1 L1900.0 1292.2 L1901.0 1292.7 L1902.0 1292.6 L1903.0 1292.9 L1904.0 1292.7 L1905.0 1292.7 L1906.0 1293.0 L1907.0 1292.6 L1908.0 1292.7 L1909.0 1292.4 L1910.0 1292.0 L1911.0 1292.6 L1912.0 1293.2 L1913.0 1294.9 L1914.0 1297.1 L1915.0 1298.6 L1916.0 1300.6 L1917.0 1302.2 L1918.0 1303.9 L1919.0 1305.8 L1920.0 1307.4 L1921.0 1308.9 L1922.0 1309.7 L1923.0 1310.9 L1924.0 1311.9 L1925.0 1312.7 L1926.0 1314.6 L1927.0 1315.6 L1928.0 1316.9 L1929.0 1318.7 L1930.0 1317.9 L1931.0 1317.5 L1932.0 1316.5 L1933.0 1314.6 L1934.0 1314.3 L1935.0 1314.2 L1936.0 1315.2 L1937.0 1317.5 L1938.0 1320.6 L1939.0 1322.5 L1940.0 1323.7 L1941.0 1322.8 L1942.0 1319.8 L1943.0 1318.5 L1944.0 1317.6 L1945.0 1317.8 L1946.0 1319.1 L1947.0 1319.4 L1948.0 1318.9 L1949.0 1318.2 L1950.0 1316.8 L1951.0 1315.8 L1952.0 1314.8 L1953.0 1313.3 L1954.0 1312.5 L1955.0 1311.4 L1956.0 1311.2 L1957.0 1312.1 L1958.0 1312.9 L1959.0 1313.5 L1960.0 1313.5 L1961.0 1312.8 L1962.0 1312.1 L1963.0 1311.7 L1964.0 1312.0 L1965.0 1312.6 L1966.0 1313.6 L1967.0 1314.8 L1968.0 1314.6 L1969.0 1314.4 L1970.0 1313.4 L1971.0 1312.0 L1972.0 1311.3 L1973.0 1310.5 L1974.0 1310.8 L1975.0 1312.0 L1976.0 1312.7 L1977.0 1313.8 L1978.0 1314.8 L1979.0 1315.0 L1980.0 1316.1 L1981.0 1316.7 L1982.0 1316.8 L1983.0 1316.8 L1984.0 1315.9 L1985.0 1315.1 L1986.0 1314.8 L1987.0 1313.9 L1988.0 1313.8 L1989.0 1313.6 L1990.0 1313.4 L1991.0 1314.5 L1992.0 1315.1 L1993.0 1316.7 L1994.0 1317.4 L1995.0 1318.6 L1996.0 1319.7 L1997.0 1319.0 L1998.0 1318.7 L1999.0 1316.3 L2000.0 1314.3 L2001.0 1312.6 L2002.0 1311.2 L2003.0 1311.8 L2004.0 1312.2 L2005.0 1313.3 L2006.0 1314.3 L2007.0 1312.9 L2008.0 1311.9 L2009.0 1310.9 L2010.0 1310.6 L2011.0 1312.8 L2012.0 1314.3 L2013.0 1316.1 L2014.0 1318.2 L2015.0 1318.7 L2016.0 1319.5 L2017.0 1319.8 L2018.0 1318.8 L2019.0 1317.2 L2020.0 1316.1 L2021.0 1316.6 L2022.0 1316.8 L2023.0 1318.7 L2024.0 1319.7 L2025.0 1319.5 L2026.0 1320.0 L2027.0 1319.0 L2028.0 1318.5 L2029.0 1317.5 L2030.0 1316.0 L2031.0 1315.3 L2032.0 1313.9 L2033.0 1312.6 L2034.0 1312.1 L2035.0 1310.9 L2036.0 1310.7 L2037.0 1311.1 L2038.0 1310.9 L2039.0 1311.7"/>
</g>
<g stroke="#000" fill="none">
<path d="M425 1335.7 V135.5 H2039" stroke-width="5.6"/>
<path d="M2038.4 132.7 V1357.8" stroke-width="5.2"/>
<path d="M422.2 1335.7 H2039" stroke-width="4.4"/>
<path d="M615.0 1335 V1357.8 M496.4 1335 V1346.5 M852.3 1335 V1357.8 M733.6 1335 V1346.5 M1089.6 1335 V1357.8 M970.9 1335 V1346.5 M1326.9 1335 V1357.8 M1208.2 1335 V1346.5 M1564.2 1335 V1357.8 M1445.5 1335 V1346.5 M1801.5 1335 V1357.8 M1682.8 1335 V1346.5 M1920.2 1335 V1346.5 " stroke-width="5"/>
</g>
<text class="s" x="614.0" y="1447.8" font-size="95" text-anchor="middle">500</text>
<text class="s" x="851.3" y="1447.8" font-size="95" text-anchor="middle">1000</text>
<text class="s" x="1088.6" y="1447.8" font-size="95" text-anchor="middle">1500</text>
<text class="s" x="1325.9" y="1447.8" font-size="95" text-anchor="middle">2000</text>
<text class="s" x="1563.2" y="1447.8" font-size="95" text-anchor="middle">2500</text>
<text class="s" x="1800.5" y="1447.8" font-size="95" text-anchor="middle">3000</text>
<text class="s" x="2037.8" y="1447.8" font-size="95" text-anchor="middle">3500</text>
<text class="s" x="823" y="1577" font-size="103">Raman Shift</text>
<text class="s" y="1577" font-size="103"><tspan x="1439" font-size="77">(</tspan><tspan x="1467">cm</tspan><tspan x="1598.5" y="1551.4" font-size="57">-1</tspan><tspan x="1649.5" y="1577" font-size="77">)</tspan></text>
<text class="s" transform="translate(334.5 1029.8) rotate(-90)" font-size="104.4">Intensity (a.u.)</text>
<text class="s" x="969" y="534" font-size="94.5">D</text>
<text class="s" x="1080" y="483.3" font-size="94.5">G</text>
<text class="s" x="1598.5" y="873.2" font-size="94.5">2D</text>
<g stroke-width="15.2" stroke-linecap="round">
<path stroke="#000" d="M1490 183.7 H1673.5"/>
<path stroke="#f0f" d="M1490 286.7 H1673.5"/>
<path stroke="#0f0" d="M1490 388 H1673.5"/>
<path stroke="#00f" d="M1490 489.5 H1673.5"/>
</g>
<text class="s" x="1706" y="211.2" font-size="51.5">GF-15</text>
<text class="s" x="1712" y="313.6" font-size="51.5">GF-30</text>
<text class="s" x="1715" y="415.2" font-size="51.5">GF-50</text>
<text class="s" x="1719" y="517" font-size="51.5">GF-75</text>
</g>
<g id="panelB">
<text class="n" transform="translate(21 1759.8) scale(0.803 1)" x="0" y="0" font-size="113.3">B</text>
<g stroke="#000" stroke-width="2.6">
<rect x="432.6" y="2857.3" width="221.5" height="307.2" fill="#00f"/>
<rect x="847.1" y="2563.4" width="221.5" height="601.1" fill="#0f0"/>
<rect x="1261.8" y="2469.9" width="221.5" height="694.6" fill="#ff8000"/>
<rect x="1675.7" y="2336.4" width="221.5" height="828.1" fill="#ff0"/>
</g>
<text class="s" transform="translate(577.0 3138.7) rotate(-90)" font-size="90">GF-15</text>
<text class="s" transform="translate(988.0 3139.5) rotate(-90)" font-size="90">GF-30</text>
<text class="s" transform="translate(1419.1 3139.5) rotate(-90)" font-size="90">GF-50</text>
<text class="s" transform="translate(1812.7 3131.0) rotate(-90)" font-size="90">GF-75</text>
<rect x="405.7" y="1829" width="1658.3" height="1335.5" fill="none" stroke="#000" stroke-width="5.5"/>
<path d="M380 3164.5 H405.7 M392.7 3030.9 H405.7 M380 2897.4 H405.7 M392.7 2763.8 H405.7 M380 2630.2 H405.7 M392.7 2496.7 H405.7 M380 2363.1 H405.7 M392.7 2229.5 H405.7 M380 2095.9 H405.7 M392.7 1962.4 H405.7 M380 1828.8 H405.7 " stroke="#000" stroke-width="5" fill="none"/>
<text class="s" x="362" y="3192.0" font-size="97" text-anchor="end">0.0</text>
<text class="s" x="362" y="2924.9" font-size="97" text-anchor="end">0.2</text>
<text class="s" x="362" y="2657.7" font-size="97" text-anchor="end">0.4</text>
<text class="s" x="362" y="2390.6" font-size="97" text-anchor="end">0.6</text>
<text class="s" x="362" y="2123.4" font-size="97" text-anchor="end">0.8</text>
<text class="s" x="362" y="1856.3" font-size="97" text-anchor="end">1.0</text>
<text class="s" x="418.5" y="1899.6" font-size="77">GF_15-75 series</text>
<text class="s" transform="translate(151.6 2913.7) rotate(-90)" font-size="115.2">Intensity<tspan dx="41.7">(I</tspan><tspan font-size="76" dy="30">D</tspan><tspan dy="-30">/I</tspan><tspan font-size="76" dy="30">G</tspan><tspan dy="-30">)</tspan></text>
</g>
</svg></body></html>
